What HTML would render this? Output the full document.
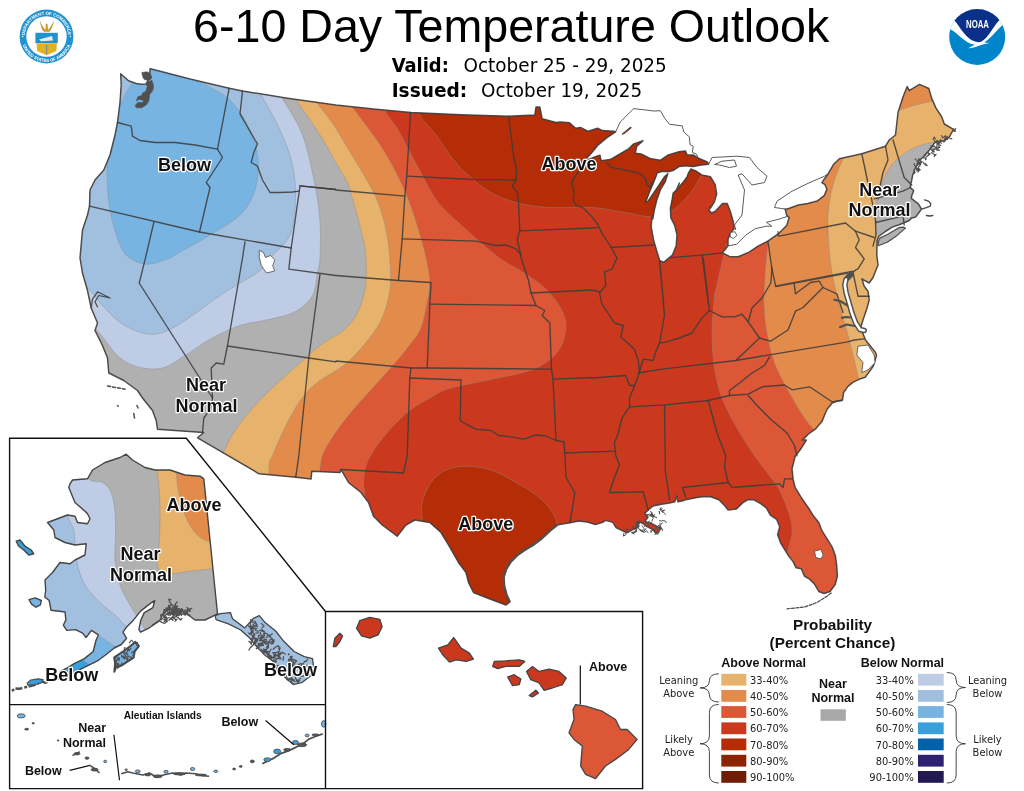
<!DOCTYPE html><html><head><meta charset="utf-8"><title>6-10 Day Temperature Outlook</title><style>html,body{margin:0;padding:0;background:#fff}body{width:1024px;height:791px;position:relative;overflow:hidden}</style></head><body>
<svg width="1024" height="791" viewBox="0 0 1024 791" style="position:absolute;left:0;top:0">
<defs><clipPath id="us"><path d="M150.5,68.8 L190.0,79.0 L229.2,88.2 L242.5,91.0 L287.5,98.2 L335.8,105.0 L373.5,109.0 L411.0,112.5 L461.0,114.8 L508.5,116.2 L534.8,115.0 L536.0,107.0 L539.8,107.0 L542.2,118.8 L556.0,122.5 L560.0,121.9 L569.4,122.7 L575.7,128.2 L580.4,127.4 L588.2,131.3 L597.6,128.2 L602.3,130.6 L613.3,131.3 L615.6,131.8 L607.0,137.6 L597.6,145.5 L591.3,153.3 L583.5,161.4 L596.1,156.4 L600.0,155.2 L601.1,160.8 L610.2,159.6 L619.6,154.1 L629.0,148.6 L633.7,143.9 L643.1,140.8 L636.8,146.2 L635.2,153.3 L641.5,154.1 L650.9,158.8 L660.3,160.3 L668.2,154.9 L679.1,151.7 L685.4,150.9 L687.0,154.9 L693.2,154.9 L697.9,158.0 L707.3,161.9 L708.6,164.3 L701.1,165.0 L693.2,166.6 L685.4,165.8 L679.1,166.6 L672.9,170.5 L668.2,171.8 L662.7,171.3 L657.2,172.9 L654.0,181.5 L649.3,192.5 L645.6,202.2 L648.1,201.1 L654.0,192.5 L660.3,183.1 L664.2,177.1 L667.8,173.7 L665.3,181.5 L660.6,189.3 L656.7,200.3 L654.4,209.7 L652.8,219.1 L651.9,216.1 L651.2,227.0 L653.5,239.6 L656.6,250.5 L659.8,260.7 L663.7,262.3 L672.3,255.2 L676.2,245.8 L677.0,234.9 L674.7,225.5 L670.8,217.6 L670.4,208.2 L672.3,198.8 L673.1,193.3 L677.0,189.4 L679.4,183.1 L676.0,190.9 L679.9,185.9 L683.8,181.5 L687.0,176.8 L688.8,172.4 L690.9,169.0 L696.4,171.3 L701.8,174.9 L710.5,176.8 L715.2,184.6 L716.7,194.0 L714.4,201.9 L710.5,208.2 L709.9,206.6 L709.2,210.6 L711.5,212.9 L715.4,211.3 L722.5,203.5 L727.2,203.5 L730.3,211.3 L733.4,222.3 L734.2,228.6 L730.3,233.3 L728.0,239.6 L728.0,245.8 L722.5,252.9 L730.3,256.8 L738.2,256.8 L749.1,252.1 L758.5,245.8 L767.9,241.1 L778.9,233.3 L786.7,225.5 L789.1,217.6 L786.7,215.3 L785.2,209.0 L787.4,209.0 L798.4,205.0 L807.8,203.5 L817.2,201.1 L824.2,195.6 L826.9,189.4 L825.0,184.7 L821.9,182.6 L824.2,179.2 L828.2,173.7 L833.6,164.3 L839.4,158.8 L861.8,153.8 L885.5,146.2 L889.2,140.0 L895.5,135.0 L898.0,112.5 L903.1,96.8 L907.2,86.5 L909.2,90.6 L919.5,84.4 L928.8,88.5 L931.9,98.9 L936.0,108.1 L941.8,117.0 L944.3,124.0 L953.5,129.4 L949.4,137.0 L943.2,141.1 L935.0,142.1 L930.9,148.3 L924.7,155.5 L919.1,160.7 L915.0,168.9 L912.7,175.1 L911.3,182.3 L910.8,182.7 L910.3,187.6 L913.7,190.5 L911.8,195.4 L911.3,198.3 L918.6,204.2 L921.5,209.1 L918.6,213.0 L915.7,216.9 L911.8,217.9 L908.8,220.8 L899.1,224.7 L892.2,227.1 L885.4,231.5 L878.6,236.4 L877.1,240.3 L876.8,255.0 L878.0,265.0 L873.0,277.5 L869.2,283.0 L861.8,278.8 L864.2,286.2 L868.0,291.2 L869.2,300.0 L866.8,308.8 L863.0,320.0 L861.0,326.2 L862.5,332.5 L865.5,340.0 L875.5,352.5 L876.5,355.6 L873.4,366.0 L865.2,377.3 L859.0,379.3 L852.8,382.4 L847.7,386.6 L843.5,392.7 L842.5,400.0 L837.4,401.0 L832.2,403.0 L827.1,409.2 L824.0,416.4 L821.9,421.6 L815.7,428.8 L808.5,434.0 L802.3,440.1 L806.4,440.0 L801.3,448.2 L795.1,456.5 L792.0,468.9 L793.1,479.2 L795.1,487.4 L801.3,497.7 L808.5,508.0 L813.7,516.3 L818.8,522.4 L821.9,530.7 L827.1,538.9 L832.2,547.2 L835.3,555.4 L836.7,565.7 L837.4,576.0 L835.3,584.3 L830.1,591.5 L824.0,593.5 L818.8,591.5 L814.7,584.3 L809.5,579.1 L804.4,576.0 L801.3,568.8 L796.1,567.8 L793.1,561.6 L788.9,556.4 L785.8,551.3 L780.7,543.1 L777.6,534.8 L779.7,526.6 L776.6,519.3 L770.4,515.2 L766.3,508.0 L761.1,503.9 L753.9,499.8 L747.7,499.8 L742.6,502.9 L736.4,509.0 L728.1,510.1 L724.0,504.9 L718.9,499.8 L710.6,496.7 L702.4,496.7 L697.0,497.5 L684.5,500.0 L683.0,500.8 L677.9,501.8 L676.8,496.1 L674.8,501.8 L669.6,502.9 L661.4,504.3 L653.1,506.0 L648.0,510.1 L644.9,513.2 L648.0,517.3 L644.9,521.4 L651.1,523.5 L655.2,525.5 L661.0,528.6 L656.2,533.8 L653.1,529.7 L646.9,526.6 L642.8,523.5 L638.7,521.4 L637.7,527.6 L632.5,529.7 L627.4,532.7 L622.2,530.7 L616.0,527.6 L612.9,522.4 L605.7,520.4 L602.6,522.4 L595.4,524.5 L587.2,522.0 L578.9,521.0 L568.6,522.9 L562.4,524.1 L557.3,524.9 L550.1,530.7 L541.8,538.5 L533.6,544.7 L524.3,550.3 L517.1,555.4 L510.9,561.6 L506.4,568.8 L503.7,577.1 L504.3,586.3 L506.8,595.6 L509.9,601.8 L506.0,605.0 L486.0,597.5 L473.5,592.5 L468.5,582.5 L466.0,572.5 L458.5,562.5 L448.5,545.0 L441.0,532.5 L429.8,522.5 L414.8,520.0 L406.0,525.0 L397.2,536.2 L382.2,525.0 L373.5,516.2 L368.5,502.5 L361.0,492.5 L348.5,482.5 L341.0,469.5 L340.0,472.4 L311.8,471.2 L311.0,479.1 L296.0,477.3 L259.1,473.8 L197.6,437.8 L203.7,432.5 L157.5,429.2 L156.2,420.5 L152.5,410.5 L142.5,398.0 L137.5,390.5 L123.8,380.5 L108.8,373.0 L107.5,358.0 L102.5,345.5 L95.0,330.5 L97.5,323.0 L91.2,308.0 L87.5,290.5 L82.5,273.0 L80.0,258.0 L82.5,230.0 L87.5,215.0 L89.5,206.2 L90.0,190.0 L95.0,180.0 L103.8,170.0 L110.0,155.0 L115.0,135.0 L117.5,122.5 L120.0,102.5 L121.2,85.0 L120.7,73.7 L128.5,80.8 L136.3,83.5 L141.4,84.3 L146.0,84.0 L149.5,78.0 L150.1,68.6Z"/></clipPath><clipPath id="akc"><path d="M70.0,483.8 L72.5,480.0 L87.5,478.8 L92.5,470.0 L105.0,462.5 L120.0,457.5 L126.2,454.2 L132.5,460.0 L145.0,467.5 L155.0,470.0 L170.0,470.0 L185.0,475.0 L200.0,476.2 L203.8,478.8 L217.5,613.8 L205.0,620.0 L195.0,620.0 L185.0,612.5 L175.0,607.5 L170.0,613.8 L165.0,610.0 L160.0,620.0 L152.5,625.0 L158.2,621.6 L149.4,627.8 L140.6,632.2 L138.9,629.6 L140.6,620.8 L144.1,612.9 L152.9,607.6 L154.7,600.5 L149.4,604.1 L140.6,611.1 L133.6,619.9 L126.6,626.9 L123.0,632.2 L126.6,638.3 L121.3,644.5 L114.3,648.0 L105.5,655.0 L98.4,660.3 L87.9,665.6 L75.6,671.7 L70.3,677.0 L65.0,679.1 L60.6,676.5 L59.8,671.7 L66.8,668.2 L73.8,663.8 L84.4,658.6 L93.2,651.5 L95.8,641.0 L98.4,634.8 L91.4,630.4 L86.1,637.5 L82.6,633.1 L75.6,629.6 L66.8,630.4 L63.3,625.2 L65.9,619.9 L65.0,612.0 L51.0,610.2 L49.2,600.5 L44.8,597.0 L45.7,590.0 L45.0,580.0 L52.5,572.5 L60.0,562.5 L70.0,563.8 L75.0,560.0 L85.0,555.0 L86.2,543.8 L75.0,545.0 L65.0,542.5 L55.0,537.5 L53.8,530.0 L47.5,522.5 L67.5,515.0 L75.0,516.2 L77.5,522.5 L87.5,523.8 L90.0,518.8 L87.5,513.8 L85.0,511.2 L75.0,502.5 L68.8,487.5Z"/></clipPath></defs>
<g clip-path="url(#us)">
<rect x="60" y="50" width="920" height="580" fill="#CA391D"/>
<path d="M378.0,95.0 C379.2,97.7 381.7,105.5 385.0,111.2 C388.3,116.9 393.4,122.3 397.6,129.2 C401.8,136.1 406.2,145.4 410.1,152.7 C414.0,160.0 417.4,166.2 421.1,173.1 C424.8,180.0 429.0,188.3 432.5,194.0 C436.0,199.7 437.3,201.9 442.0,207.0 C446.7,212.1 454.1,218.5 460.6,224.5 C467.1,230.5 474.3,237.2 481.2,243.1 C488.1,248.9 494.9,254.8 501.8,259.6 C508.7,264.4 515.5,267.5 522.4,272.0 C529.3,276.5 537.1,281.2 543.0,286.4 C548.9,291.5 553.7,297.1 557.5,302.9 C561.3,308.7 564.7,315.2 565.7,321.4 C566.7,327.6 565.4,334.5 563.7,340.0 C562.0,345.5 559.5,349.9 555.4,354.4 C551.3,358.9 544.6,363.7 538.9,366.8 C533.2,369.9 529.8,370.7 521.0,373.0 C512.2,375.3 498.1,377.9 486.0,380.5 C473.9,383.1 457.6,386.0 448.5,388.8 C439.4,391.6 437.1,394.1 431.1,397.4 C425.1,400.7 418.1,404.2 412.3,408.4 C406.6,412.6 401.6,417.5 396.6,422.5 C391.6,427.5 386.7,432.9 382.5,438.2 C378.3,443.4 374.3,449.1 371.5,454.0 C368.7,458.9 366.8,462.8 365.5,467.5 C364.2,472.2 363.6,478.3 363.5,482.5 C363.4,486.7 364.4,486.2 364.8,492.5 C365.2,498.8 365.8,515.4 366.0,520.0 L366.0,900.0 L-60.0,900.0 L-60.0,-60.0 L378.0,-60.0Z" fill="#DB5735"/>
<path d="M378.0,95.0 C379.2,97.7 381.7,105.5 385.0,111.2 C388.3,116.9 393.4,122.3 397.6,129.2 C401.8,136.1 406.2,145.4 410.1,152.7 C414.0,160.0 417.4,166.2 421.1,173.1 C424.8,180.0 429.0,188.3 432.5,194.0 C436.0,199.7 437.3,201.9 442.0,207.0 C446.7,212.1 454.1,218.5 460.6,224.5 C467.1,230.5 474.3,237.2 481.2,243.1 C488.1,248.9 494.9,254.8 501.8,259.6 C508.7,264.4 515.5,267.5 522.4,272.0 C529.3,276.5 537.1,281.2 543.0,286.4 C548.9,291.5 553.7,297.1 557.5,302.9 C561.3,308.7 564.7,315.2 565.7,321.4 C566.7,327.6 565.4,334.5 563.7,340.0 C562.0,345.5 559.5,349.9 555.4,354.4 C551.3,358.9 544.6,363.7 538.9,366.8 C533.2,369.9 529.8,370.7 521.0,373.0 C512.2,375.3 498.1,377.9 486.0,380.5 C473.9,383.1 457.6,386.0 448.5,388.8 C439.4,391.6 437.1,394.1 431.1,397.4 C425.1,400.7 418.1,404.2 412.3,408.4 C406.6,412.6 401.6,417.5 396.6,422.5 C391.6,427.5 386.7,432.9 382.5,438.2 C378.3,443.4 374.3,449.1 371.5,454.0 C368.7,458.9 366.8,462.8 365.5,467.5 C364.2,472.2 363.6,478.3 363.5,482.5 C363.4,486.7 364.4,486.2 364.8,492.5 C365.2,498.8 365.8,515.4 366.0,520.0" fill="none" stroke="#8c8c8c" stroke-opacity=".55" stroke-width=".8"/>

<path d="M336.0,85.0 C338.7,88.7 345.1,97.4 352.2,107.0 C359.3,116.6 371.2,131.6 378.5,142.5 C385.8,153.4 391.0,162.9 396.0,172.5 C401.0,182.1 404.8,190.4 408.5,200.0 C412.2,209.6 415.6,220.4 418.5,230.0 C421.4,239.6 424.1,249.0 426.0,257.8 C427.9,266.6 429.8,274.6 429.8,283.0 C429.8,291.4 427.6,300.2 426.0,308.0 C424.4,315.8 422.9,323.7 420.1,330.0 C417.3,336.3 413.0,340.5 409.1,345.7 C405.2,350.9 401.0,356.1 396.6,361.3 C392.2,366.5 387.2,371.8 382.5,377.0 C377.8,382.2 373.1,387.5 368.4,392.7 C363.7,397.9 358.8,403.2 354.3,408.4 C349.9,413.6 345.6,418.8 341.7,424.0 C337.8,429.2 333.9,434.7 330.8,439.7 C327.7,444.7 324.8,448.9 322.9,454.0 C321.0,459.1 320.4,465.2 319.7,470.3 C319.0,475.4 319.0,482.0 318.9,484.4 L318.9,900.0 L-60.0,900.0 L-60.0,-60.0 L336.0,-60.0Z" fill="#E38B4B"/>
<path d="M336.0,85.0 C338.7,88.7 345.1,97.4 352.2,107.0 C359.3,116.6 371.2,131.6 378.5,142.5 C385.8,153.4 391.0,162.9 396.0,172.5 C401.0,182.1 404.8,190.4 408.5,200.0 C412.2,209.6 415.6,220.4 418.5,230.0 C421.4,239.6 424.1,249.0 426.0,257.8 C427.9,266.6 429.8,274.6 429.8,283.0 C429.8,291.4 427.6,300.2 426.0,308.0 C424.4,315.8 422.9,323.7 420.1,330.0 C417.3,336.3 413.0,340.5 409.1,345.7 C405.2,350.9 401.0,356.1 396.6,361.3 C392.2,366.5 387.2,371.8 382.5,377.0 C377.8,382.2 373.1,387.5 368.4,392.7 C363.7,397.9 358.8,403.2 354.3,408.4 C349.9,413.6 345.6,418.8 341.7,424.0 C337.8,429.2 333.9,434.7 330.8,439.7 C327.7,444.7 324.8,448.9 322.9,454.0 C321.0,459.1 320.4,465.2 319.7,470.3 C319.0,475.4 319.0,482.0 318.9,484.4" fill="none" stroke="#8c8c8c" stroke-opacity=".55" stroke-width=".8"/>

<path d="M310.0,92.0 C311.3,94.0 313.7,98.4 317.6,103.8 C321.5,109.2 327.8,116.3 333.3,124.5 C338.8,132.7 345.3,144.1 350.5,152.7 C355.7,161.3 360.4,168.9 364.6,176.2 C368.8,183.5 372.7,190.3 375.6,196.6 C378.5,202.9 380.2,208.4 381.9,214.0 C383.6,219.6 384.7,222.7 386.0,230.0 C387.3,237.3 389.2,247.7 389.8,257.8 C390.4,267.9 391.3,280.1 389.8,290.5 C388.3,300.9 385.4,311.3 381.0,320.5 C376.6,329.7 369.8,338.0 363.5,345.5 C357.2,353.0 350.8,359.7 343.5,365.5 C336.2,371.3 326.4,375.7 320.0,380.5 C313.6,385.3 309.6,388.8 305.0,394.2 C300.4,399.6 296.7,405.7 292.5,413.0 C288.3,420.3 283.3,430.9 280.0,438.0 C276.7,445.1 274.2,451.9 272.5,455.8 C270.8,459.7 270.2,458.5 269.6,461.5 C269.0,464.5 269.1,469.4 268.8,473.8 C268.5,478.2 268.0,485.5 267.9,487.9 L267.9,900.0 L-60.0,900.0 L-60.0,-60.0 L310.0,-60.0Z" fill="#E7B26B"/>
<path d="M310.0,92.0 C311.3,94.0 313.7,98.4 317.6,103.8 C321.5,109.2 327.8,116.3 333.3,124.5 C338.8,132.7 345.3,144.1 350.5,152.7 C355.7,161.3 360.4,168.9 364.6,176.2 C368.8,183.5 372.7,190.3 375.6,196.6 C378.5,202.9 380.2,208.4 381.9,214.0 C383.6,219.6 384.7,222.7 386.0,230.0 C387.3,237.3 389.2,247.7 389.8,257.8 C390.4,267.9 391.3,280.1 389.8,290.5 C388.3,300.9 385.4,311.3 381.0,320.5 C376.6,329.7 369.8,338.0 363.5,345.5 C357.2,353.0 350.8,359.7 343.5,365.5 C336.2,371.3 326.4,375.7 320.0,380.5 C313.6,385.3 309.6,388.8 305.0,394.2 C300.4,399.6 296.7,405.7 292.5,413.0 C288.3,420.3 283.3,430.9 280.0,438.0 C276.7,445.1 274.2,451.9 272.5,455.8 C270.8,459.7 270.2,458.5 269.6,461.5 C269.0,464.5 269.1,469.4 268.8,473.8 C268.5,478.2 268.0,485.5 267.9,487.9" fill="none" stroke="#8c8c8c" stroke-opacity=".55" stroke-width=".8"/>

<path d="M282.5,82.5 C284.9,85.6 290.8,92.5 297.0,101.2 C303.2,110.0 313.5,124.8 320.0,135.0 C326.5,145.2 331.5,155.0 335.8,162.5 C340.1,170.0 343.7,175.4 346.0,180.0 C348.3,184.6 347.3,181.7 349.8,190.0 C352.3,198.3 358.3,218.7 361.0,230.0 C363.7,241.3 365.4,247.7 366.0,257.8 C366.6,267.9 366.5,280.9 364.8,290.5 C363.1,300.1 359.6,308.8 356.0,315.5 C352.4,322.2 346.9,327.2 343.5,330.5 C340.1,333.8 339.7,333.0 335.8,335.5 C331.9,338.0 326.0,340.9 320.0,345.5 C314.0,350.1 307.1,356.8 300.0,363.0 C292.9,369.2 285.0,375.9 277.5,383.0 C270.0,390.1 262.1,397.6 255.0,405.5 C247.9,413.4 240.2,422.8 235.0,430.5 C229.8,438.2 226.7,446.0 223.8,451.8 C220.9,457.6 218.6,463.2 217.5,465.5 L217.5,900.0 L-60.0,900.0 L-60.0,-60.0 L282.5,-60.0Z" fill="#B0B0B0"/>
<path d="M282.5,82.5 C284.9,85.6 290.8,92.5 297.0,101.2 C303.2,110.0 313.5,124.8 320.0,135.0 C326.5,145.2 331.5,155.0 335.8,162.5 C340.1,170.0 343.7,175.4 346.0,180.0 C348.3,184.6 347.3,181.7 349.8,190.0 C352.3,198.3 358.3,218.7 361.0,230.0 C363.7,241.3 365.4,247.7 366.0,257.8 C366.6,267.9 366.5,280.9 364.8,290.5 C363.1,300.1 359.6,308.8 356.0,315.5 C352.4,322.2 346.9,327.2 343.5,330.5 C340.1,333.8 339.7,333.0 335.8,335.5 C331.9,338.0 326.0,340.9 320.0,345.5 C314.0,350.1 307.1,356.8 300.0,363.0 C292.9,369.2 285.0,375.9 277.5,383.0 C270.0,390.1 262.1,397.6 255.0,405.5 C247.9,413.4 240.2,422.8 235.0,430.5 C229.8,438.2 226.7,446.0 223.8,451.8 C220.9,457.6 218.6,463.2 217.5,465.5" fill="none" stroke="#8c8c8c" stroke-opacity=".55" stroke-width=".8"/>

<path d="M272.5,82.5 C274.2,85.2 277.5,90.0 282.5,98.8 C287.5,107.5 297.1,120.6 302.5,135.0 C307.9,149.4 312.1,170.4 315.0,185.0 C317.9,199.6 319.2,210.3 320.0,222.5 C320.8,234.7 320.4,249.6 320.0,258.0 C319.6,266.4 318.8,266.8 317.5,273.0 C316.2,279.2 316.2,289.0 312.5,295.5 C308.8,302.0 302.1,307.9 295.0,311.8 C287.9,315.8 279.2,316.9 270.0,319.2 C260.8,321.5 250.0,322.2 240.0,325.5 C230.0,328.8 219.2,334.2 210.0,339.2 C200.8,344.2 192.9,350.7 185.0,355.5 C177.1,360.3 170.4,366.1 162.5,368.0 C154.6,369.9 145.0,368.9 137.5,366.8 C130.0,364.7 124.6,362.0 117.5,355.5 C110.4,349.0 102.9,335.9 95.0,328.0 C87.1,320.1 74.2,311.3 70.0,308.0 L-60.0,-60.0 L272.5,-60.0Z" fill="#BFCCE6"/>
<path d="M272.5,82.5 C274.2,85.2 277.5,90.0 282.5,98.8 C287.5,107.5 297.1,120.6 302.5,135.0 C307.9,149.4 312.1,170.4 315.0,185.0 C317.9,199.6 319.2,210.3 320.0,222.5 C320.8,234.7 320.4,249.6 320.0,258.0 C319.6,266.4 318.8,266.8 317.5,273.0 C316.2,279.2 316.2,289.0 312.5,295.5 C308.8,302.0 302.1,307.9 295.0,311.8 C287.9,315.8 279.2,316.9 270.0,319.2 C260.8,321.5 250.0,322.2 240.0,325.5 C230.0,328.8 219.2,334.2 210.0,339.2 C200.8,344.2 192.9,350.7 185.0,355.5 C177.1,360.3 170.4,366.1 162.5,368.0 C154.6,369.9 145.0,368.9 137.5,366.8 C130.0,364.7 124.6,362.0 117.5,355.5 C110.4,349.0 102.9,335.9 95.0,328.0 C87.1,320.1 74.2,311.3 70.0,308.0" fill="none" stroke="#8c8c8c" stroke-opacity=".55" stroke-width=".8"/>

<path d="M252.5,82.5 C253.9,84.6 256.6,87.1 261.2,95.0 C265.8,102.9 274.8,118.3 280.0,130.0 C285.2,141.7 289.9,153.3 292.5,165.0 C295.1,176.7 295.9,188.3 295.5,200.0 C295.1,211.7 294.2,225.3 290.0,235.0 C285.8,244.7 275.0,252.1 270.0,258.0 C265.0,263.9 265.0,266.3 260.0,270.5 C255.0,274.7 246.7,278.8 240.0,283.0 C233.3,287.2 227.1,290.7 220.0,295.5 C212.9,300.3 205.0,306.6 197.5,311.8 C190.0,317.0 182.1,323.1 175.0,326.8 C167.9,330.5 161.7,333.6 155.0,334.2 C148.3,334.8 141.2,332.8 135.0,330.5 C128.8,328.2 122.9,324.7 117.5,320.5 C112.1,316.3 107.1,310.5 102.5,305.5 C97.9,300.5 95.4,295.9 90.0,290.5 C84.6,285.1 73.3,275.9 70.0,273.0 L-60.0,-60.0 L252.5,-60.0Z" fill="#A1C0DF"/>
<path d="M252.5,82.5 C253.9,84.6 256.6,87.1 261.2,95.0 C265.8,102.9 274.8,118.3 280.0,130.0 C285.2,141.7 289.9,153.3 292.5,165.0 C295.1,176.7 295.9,188.3 295.5,200.0 C295.1,211.7 294.2,225.3 290.0,235.0 C285.8,244.7 275.0,252.1 270.0,258.0 C265.0,263.9 265.0,266.3 260.0,270.5 C255.0,274.7 246.7,278.8 240.0,283.0 C233.3,287.2 227.1,290.7 220.0,295.5 C212.9,300.3 205.0,306.6 197.5,311.8 C190.0,317.0 182.1,323.1 175.0,326.8 C167.9,330.5 161.7,333.6 155.0,334.2 C148.3,334.8 141.2,332.8 135.0,330.5 C128.8,328.2 122.9,324.7 117.5,320.5 C112.1,316.3 107.1,310.5 102.5,305.5 C97.9,300.5 95.4,295.9 90.0,290.5 C84.6,285.1 73.3,275.9 70.0,273.0" fill="none" stroke="#8c8c8c" stroke-opacity=".55" stroke-width=".8"/>

<path d="M138.0,75.0 C137.0,76.4 134.8,79.1 132.0,83.5 C129.2,87.9 124.7,94.6 121.5,101.5 C118.3,108.4 115.1,116.9 113.0,125.0 C110.9,133.1 110.0,142.1 109.0,150.0 C108.0,157.9 106.8,162.5 107.0,172.5 C107.2,182.5 107.8,197.9 110.0,210.0 C112.2,222.1 116.7,237.0 120.0,245.0 C123.3,253.0 125.4,254.8 130.0,258.0 C134.6,261.2 140.8,264.2 147.5,264.2 C154.2,264.2 165.4,259.5 170.0,258.0 C174.6,256.5 168.3,258.8 175.0,255.0 C181.7,251.2 199.2,241.7 210.0,235.0 C220.8,228.3 232.5,222.5 240.0,215.0 C247.5,207.5 252.0,199.2 255.0,190.0 C258.0,180.8 258.8,170.0 258.0,160.0 C257.2,150.0 254.7,140.0 250.0,130.0 C245.3,120.0 238.3,108.1 230.0,100.0 C221.7,91.9 207.5,87.0 200.0,81.2 C192.5,75.4 192.5,70.2 185.0,65.0 C177.5,59.8 162.1,50.0 155.0,50.0 C147.9,50.0 145.3,60.8 142.5,65.0 C139.7,69.2 138.8,73.3 138.0,75.0Z" fill="#78B4E2"/>
<path d="M138.0,75.0 C137.0,76.4 134.8,79.1 132.0,83.5 C129.2,87.9 124.7,94.6 121.5,101.5 C118.3,108.4 115.1,116.9 113.0,125.0 C110.9,133.1 110.0,142.1 109.0,150.0 C108.0,157.9 106.8,162.5 107.0,172.5 C107.2,182.5 107.8,197.9 110.0,210.0 C112.2,222.1 116.7,237.0 120.0,245.0 C123.3,253.0 125.4,254.8 130.0,258.0 C134.6,261.2 140.8,264.2 147.5,264.2 C154.2,264.2 165.4,259.5 170.0,258.0 C174.6,256.5 168.3,258.8 175.0,255.0 C181.7,251.2 199.2,241.7 210.0,235.0 C220.8,228.3 232.5,222.5 240.0,215.0 C247.5,207.5 252.0,199.2 255.0,190.0 C258.0,180.8 258.8,170.0 258.0,160.0 C257.2,150.0 254.7,140.0 250.0,130.0 C245.3,120.0 238.3,108.1 230.0,100.0 C221.7,91.9 207.5,87.0 200.0,81.2 C192.5,75.4 192.5,70.2 185.0,65.0 C177.5,59.8 162.1,50.0 155.0,50.0 C147.9,50.0 145.3,60.8 142.5,65.0 C139.7,69.2 138.8,73.3 138.0,75.0" fill="none" stroke="#8c8c8c" stroke-opacity=".55" stroke-width=".8"/>

<path d="M746.0,189.4 C744.4,194.9 739.5,213.9 736.6,222.3 C733.7,230.7 730.8,234.2 728.7,239.6 C726.6,245.0 725.6,248.8 724.0,254.5 C722.4,260.2 720.9,267.1 719.3,274.0 C717.7,280.9 715.4,292.4 714.6,296.0 C713.8,299.6 714.9,289.3 714.5,295.5 C714.1,301.7 712.0,320.9 712.0,333.0 C712.0,345.1 712.8,357.2 714.5,368.0 C716.2,378.8 718.2,388.0 722.0,398.0 C725.8,408.0 731.6,418.4 737.0,428.0 C742.4,437.6 749.5,448.4 754.5,455.8 C759.5,463.2 762.8,466.8 767.0,472.5 C771.2,478.2 775.8,482.9 779.5,490.0 C783.2,497.1 787.4,507.9 789.5,515.0 C791.6,522.1 792.2,526.7 792.0,532.5 C791.8,538.3 789.5,542.1 788.2,550.0 C787.0,557.9 785.1,575.0 784.5,580.0 L784.5,900.0 L1100.0,900.0 L1100.0,-60.0 L746.0,-60.0Z" fill="#DB5735"/>
<path d="M746.0,189.4 C744.4,194.9 739.5,213.9 736.6,222.3 C733.7,230.7 730.8,234.2 728.7,239.6 C726.6,245.0 725.6,248.8 724.0,254.5 C722.4,260.2 720.9,267.1 719.3,274.0 C717.7,280.9 715.4,292.4 714.6,296.0 C713.8,299.6 714.9,289.3 714.5,295.5 C714.1,301.7 712.0,320.9 712.0,333.0 C712.0,345.1 712.8,357.2 714.5,368.0 C716.2,378.8 718.2,388.0 722.0,398.0 C725.8,408.0 731.6,418.4 737.0,428.0 C742.4,437.6 749.5,448.4 754.5,455.8 C759.5,463.2 762.8,466.8 767.0,472.5 C771.2,478.2 775.8,482.9 779.5,490.0 C783.2,497.1 787.4,507.9 789.5,515.0 C791.6,522.1 792.2,526.7 792.0,532.5 C791.8,538.3 789.5,542.1 788.2,550.0 C787.0,557.9 785.1,575.0 784.5,580.0" fill="none" stroke="#8c8c8c" stroke-opacity=".55" stroke-width=".8"/>

<path d="M775.8,189.4 C775.0,194.4 772.3,210.7 771.1,219.2 C769.9,227.7 769.5,233.8 768.7,240.3 C767.9,246.8 767.0,251.7 766.4,258.4 C765.8,265.1 765.2,272.7 764.8,280.3 C764.4,287.9 763.6,295.2 764.0,304.0 C764.4,312.8 765.2,323.2 767.0,333.0 C768.8,342.8 770.8,353.0 774.5,363.0 C778.2,373.0 784.5,383.8 789.5,393.0 C794.5,402.2 799.9,411.3 804.5,418.0 C809.1,424.7 811.6,426.8 817.0,433.0 C822.4,439.2 833.7,451.8 837.0,455.5 L837.0,900.0 L1100.0,900.0 L1100.0,-60.0 L775.8,-60.0Z" fill="#E38B4B"/>
<path d="M775.8,189.4 C775.0,194.4 772.3,210.7 771.1,219.2 C769.9,227.7 769.5,233.8 768.7,240.3 C767.9,246.8 767.0,251.7 766.4,258.4 C765.8,265.1 765.2,272.7 764.8,280.3 C764.4,287.9 763.6,295.2 764.0,304.0 C764.4,312.8 765.2,323.2 767.0,333.0 C768.8,342.8 770.8,353.0 774.5,363.0 C778.2,373.0 784.5,383.8 789.5,393.0 C794.5,402.2 799.9,411.3 804.5,418.0 C809.1,424.7 811.6,426.8 817.0,433.0 C822.4,439.2 833.7,451.8 837.0,455.5" fill="none" stroke="#8c8c8c" stroke-opacity=".55" stroke-width=".8"/>

<path d="M863.0,400.0 C861.8,394.2 857.0,371.7 855.5,365.0 C854.0,358.3 855.5,365.0 854.2,360.0 C853.0,355.0 850.7,345.0 848.0,335.0 C845.3,325.0 840.9,312.1 838.0,300.0 C835.1,287.9 832.2,275.0 830.5,262.5 C828.8,250.0 828.0,229.6 827.5,225.0 C827.0,220.4 827.3,237.5 827.5,235.0 C827.7,232.5 827.6,218.3 828.5,210.0 C829.4,201.7 830.6,193.5 833.0,185.0 C835.4,176.5 839.7,166.3 843.0,158.8 C846.3,151.3 848.0,146.1 853.0,140.0 C858.0,133.9 865.2,127.5 873.0,122.5 C880.8,117.5 890.0,113.5 899.8,110.0 C909.6,106.5 920.4,103.7 931.8,101.2 C943.2,98.7 962.0,96.0 968.0,95.0 L1100.0,95.0 L1100.0,400.0Z" fill="#E7B26B"/>
<path d="M863.0,400.0 C861.8,394.2 857.0,371.7 855.5,365.0 C854.0,358.3 855.5,365.0 854.2,360.0 C853.0,355.0 850.7,345.0 848.0,335.0 C845.3,325.0 840.9,312.1 838.0,300.0 C835.1,287.9 832.2,275.0 830.5,262.5 C828.8,250.0 828.0,229.6 827.5,225.0 C827.0,220.4 827.3,237.5 827.5,235.0 C827.7,232.5 827.6,218.3 828.5,210.0 C829.4,201.7 830.6,193.5 833.0,185.0 C835.4,176.5 839.7,166.3 843.0,158.8 C846.3,151.3 848.0,146.1 853.0,140.0 C858.0,133.9 865.2,127.5 873.0,122.5 C880.8,117.5 890.0,113.5 899.8,110.0 C909.6,106.5 920.4,103.7 931.8,101.2 C943.2,98.7 962.0,96.0 968.0,95.0" fill="none" stroke="#8c8c8c" stroke-opacity=".55" stroke-width=".8"/>

<path d="M948.4,143.4 C946.0,143.3 937.4,142.8 934.0,142.8 C930.6,142.8 930.9,142.7 927.8,143.4 C924.7,144.2 919.5,145.5 915.4,147.3 C911.3,149.2 906.9,151.8 903.1,154.5 C899.3,157.2 895.6,160.4 892.7,163.8 C889.8,167.2 887.5,171.2 885.5,175.1 C883.5,179.0 881.9,183.0 880.4,187.5 C878.9,192.0 877.2,196.8 876.3,201.9 C875.4,207.1 875.3,212.9 875.2,218.4 C875.1,223.9 875.7,232.2 875.8,234.9 L1100.0,234.9 L1100.0,143.4Z" fill="#B0B0B0"/>
<path d="M948.4,143.4 C946.0,143.3 937.4,142.8 934.0,142.8 C930.6,142.8 930.9,142.7 927.8,143.4 C924.7,144.2 919.5,145.5 915.4,147.3 C911.3,149.2 906.9,151.8 903.1,154.5 C899.3,157.2 895.6,160.4 892.7,163.8 C889.8,167.2 887.5,171.2 885.5,175.1 C883.5,179.0 881.9,183.0 880.4,187.5 C878.9,192.0 877.2,196.8 876.3,201.9 C875.4,207.1 875.3,212.9 875.2,218.4 C875.1,223.9 875.7,232.2 875.8,234.9" fill="none" stroke="#8c8c8c" stroke-opacity=".55" stroke-width=".8"/>

<path d="M411.0,85.0 C412.2,89.7 414.3,104.7 418.5,113.0 C422.7,121.3 430.2,127.2 436.0,135.0 C441.8,142.8 447.7,152.9 453.5,160.0 C459.3,167.1 464.8,172.1 471.0,177.5 C477.2,182.9 483.5,188.3 491.0,192.5 C498.5,196.7 506.4,200.0 516.0,202.5 C525.6,205.0 536.0,206.7 548.5,207.5 C561.0,208.3 578.9,206.6 591.3,207.4 C603.7,208.2 612.6,210.5 622.7,212.1 C632.8,213.7 643.7,216.9 651.7,216.8 C659.7,216.7 665.4,213.8 670.5,211.3 C675.6,208.8 678.5,205.6 682.3,201.9 C686.1,198.2 690.2,193.5 693.2,189.3 C696.2,185.1 697.4,181.8 700.3,176.8 C703.2,171.9 707.8,167.2 710.5,159.6 C713.2,152.0 715.7,136.0 716.7,131.3 L716.7,-60.0 L411.0,-60.0Z" fill="#B42D06"/>
<path d="M411.0,85.0 C412.2,89.7 414.3,104.7 418.5,113.0 C422.7,121.3 430.2,127.2 436.0,135.0 C441.8,142.8 447.7,152.9 453.5,160.0 C459.3,167.1 464.8,172.1 471.0,177.5 C477.2,182.9 483.5,188.3 491.0,192.5 C498.5,196.7 506.4,200.0 516.0,202.5 C525.6,205.0 536.0,206.7 548.5,207.5 C561.0,208.3 578.9,206.6 591.3,207.4 C603.7,208.2 612.6,210.5 622.7,212.1 C632.8,213.7 643.7,216.9 651.7,216.8 C659.7,216.7 665.4,213.8 670.5,211.3 C675.6,208.8 678.5,205.6 682.3,201.9 C686.1,198.2 690.2,193.5 693.2,189.3 C696.2,185.1 697.4,181.8 700.3,176.8 C703.2,171.9 707.8,167.2 710.5,159.6 C713.2,152.0 715.7,136.0 716.7,131.3" fill="none" stroke="#8c8c8c" stroke-opacity=".55" stroke-width=".8"/>

<path d="M422.2,535.0 C422.2,532.5 422.2,525.4 422.2,520.0 C422.2,514.6 420.7,508.8 422.2,502.5 C423.7,496.2 427.0,487.9 431.0,482.5 C435.0,477.1 440.2,472.7 446.0,470.0 C451.8,467.3 458.5,466.2 466.0,466.2 C473.5,466.2 482.7,467.3 491.0,470.0 C499.3,472.7 508.5,478.3 516.0,482.5 C523.5,486.7 530.2,490.4 536.0,495.0 C541.8,499.6 547.5,505.0 551.0,510.0 C554.5,515.0 555.5,518.3 557.2,525.0 C558.9,531.7 560.4,545.8 561.0,550.0 L561.0,800.0 L422.2,800.0Z" fill="#B42D06"/>
<path d="M422.2,535.0 C422.2,532.5 422.2,525.4 422.2,520.0 C422.2,514.6 420.7,508.8 422.2,502.5 C423.7,496.2 427.0,487.9 431.0,482.5 C435.0,477.1 440.2,472.7 446.0,470.0 C451.8,467.3 458.5,466.2 466.0,466.2 C473.5,466.2 482.7,467.3 491.0,470.0 C499.3,472.7 508.5,478.3 516.0,482.5 C523.5,486.7 530.2,490.4 536.0,495.0 C541.8,499.6 547.5,505.0 551.0,510.0 C554.5,515.0 555.5,518.3 557.2,525.0 C558.9,531.7 560.4,545.8 561.0,550.0" fill="none" stroke="#8c8c8c" stroke-opacity=".55" stroke-width=".8"/>

</g>
<g fill="none" stroke="#3c3c3c" stroke-opacity=".88" stroke-width="1.35" stroke-linejoin="round" stroke-linecap="round">
<path d="M117.5,122.5 L131.2,126.2 L132.5,136.2 L140.0,140.5 L155.0,142.5 L175.0,142.5 L195.0,145.0 L217.5,149.2"/>
<path d="M229.2,88.2 L217.5,149.2 L222.5,157.5 L211.2,175.0 L206.2,182.5 L210.0,187.5 L199.5,232.0"/>
<path d="M242.5,91.0 L240.0,113.8 L255.0,140.0 L257.5,143.8 L253.8,152.5 L251.2,162.5 L257.5,166.2 L262.5,180.0 L270.0,192.5 L280.0,192.5 L292.5,192.0 L299.2,191.2"/>
<path d="M89.5,206.2 L199.5,232.0 L291.2,248.0"/>
<path d="M153.8,222.5 L145.5,257.8 L139.2,283.0 L212.5,398.0 L211.2,408.0 L203.8,418.0 L202.5,433.0"/>
<path d="M245.0,241.8 L242.5,258.0 L227.5,345.5 L223.8,364.2 L216.2,363.0 L211.2,368.0 L212.5,398.0"/>
<path d="M335.8,189.5 L300.0,185.8 L291.2,248.0 L288.8,269.2 L335.8,275.5 L336.0,275.5 L398.5,280.5 L431.0,282.5 L429.8,304.2 L427.2,368.0"/>
<path d="M300.0,185.8 L335.8,189.5 L336.0,190.0 L404.8,196.2"/>
<path d="M410.5,112.5 L406.8,176.2 L404.8,196.2 L402.2,238.8 L400.5,257.8 L398.5,280.5"/>
<path d="M406.8,176.2 L473.5,179.5 L516.0,180.0"/>
<path d="M508.5,116.2 L511.0,135.0 L513.5,155.0 L516.5,170.0 L516.0,180.0 L512.2,186.2 L517.2,192.5 L518.5,202.5 L519.8,230.0 L517.2,240.0 L519.8,250.0 L521.0,257.8 L528.5,280.5 L531.0,293.0 L536.0,305.5 L544.8,310.5 L542.2,315.5 L549.8,323.0 L551.5,369.2 L553.0,379.2 L556.0,440.5"/>
<path d="M564.0,441.8 L564.8,453.0 L564.8,452.5 L566.0,477.5 L574.8,492.5 L572.2,510.0 L569.8,522.5"/>
<path d="M402.2,238.8 L476.0,241.2 L496.0,245.5 L506.0,245.0 L516.0,248.8 L521.0,255.0"/>
<path d="M519.8,230.8 L591.8,228.0 L598.0,227.5"/>
<path d="M227.5,346.0 L308.8,358.0 L335.8,361.8 L336.0,361.0 L411.0,368.0 L427.2,368.0 L551.5,369.2"/>
<path d="M320.0,274.2 L308.8,358.0 L298.8,455.8 L295.7,477.3"/>
<path d="M429.8,304.2 L536.0,305.5"/>
<path d="M411.0,368.0 L409.8,378.0 L407.2,455.8 L403.5,473.0 L341.0,469.5"/>
<path d="M409.8,378.0 L461.0,380.0 L460.2,420.5 L466.0,424.2 L476.0,429.2 L491.0,430.5 L498.5,435.5 L511.0,436.8 L523.5,439.2 L536.0,435.0 L546.0,436.0 L556.0,440.5 L564.0,441.8"/>
<path d="M531.0,293.0 L591.8,290.0 L600.0,292.0"/>
<path d="M553.0,379.2 L591.8,377.5 L592.0,378.0 L625.8,375.5 L629.5,385.5 L634.5,385.5"/>
<path d="M564.8,453.0 L591.8,451.8 L592.0,452.0 L615.8,451.2"/>
<path d="M585.9,160.3 L580.4,169.0 L572.5,179.9 L571.8,184.6 L574.1,190.9 L573.3,200.3 L575.7,205.0 L583.5,208.2 L591.3,216.0 L597.6,224.0 L603.0,235.0 L611.0,247.0 L617.0,258.0 L612.0,269.2 L604.5,271.8 L605.8,285.5 L599.5,293.0 L602.0,304.2 L614.5,323.0 L623.2,325.5 L620.8,336.8 L634.5,349.2 L638.2,360.5 L639.5,371.8 L635.8,383.0 L629.5,398.0 L629.5,406.8 L622.0,418.0 L618.2,433.0 L614.5,443.0 L615.8,455.8 L619.5,465.0 L614.5,477.5 L609.5,492.5 L643.2,491.8 L648.2,510.0"/>
<path d="M607.0,162.7 L611.7,167.4 L622.7,169.7 L635.2,172.1 L641.5,174.5 L645.4,178.4 L647.0,184.6 L650.1,187.8 L652.5,181.5"/>
<path d="M611.0,247.5 L653.5,245.0"/>
<path d="M659.8,261.5 L663.7,304.0 L659.5,260.5 L664.5,315.5 L659.5,343.0"/>
<path d="M702.1,255.2 L708.4,304.0 L703.2,258.0 L709.5,310.5"/>
<path d="M670.8,257.6 L702.1,255.2 L722.5,252.9"/>
<path d="M639.5,371.8 L643.2,359.2 L653.2,360.5 L655.8,351.8 L659.5,343.0 L667.0,341.8 L679.5,338.0 L692.0,333.0 L702.0,318.0 L709.5,310.5 L722.0,316.8 L734.5,316.8 L742.0,314.2 L748.2,321.8 L752.0,308.0 L762.0,298.0 L770.8,283.0 L772.0,268.0 L771.8,267.8"/>
<path d="M767.9,241.1 L771.8,267.8 L773.4,275.6 L775.8,286.6 L847.8,273.0 L775.5,286.2 L853.0,271.2"/>
<path d="M748.2,321.8 L759.5,338.0 L735.8,360.5"/>
<path d="M759.5,338.0 L770.5,341.2 L788.0,330.0 L795.5,311.2 L803.0,307.5 L823.0,287.5 L836.8,293.8 L843.0,312.5"/>
<path d="M794.2,283.8 L795.5,293.8 L810.5,282.5 L819.2,281.2 L823.0,287.5"/>
<path d="M638.2,373.0 L662.0,369.2 L735.8,360.5 L847.8,341.8 L854.2,340.0 L864.2,338.8"/>
<path d="M769.5,356.8 L764.5,365.5 L752.0,373.0 L739.5,383.0 L729.5,390.5 L729.5,395.5"/>
<path d="M629.5,406.8 L664.5,404.8 L708.2,400.5 L729.5,395.5 L748.2,394.2 L762.0,386.8 L784.5,385.0 L792.0,389.8 L809.5,386.8 L832.0,401.8 L842.0,400.5"/>
<path d="M748.2,395.5 L757.0,405.5 L772.0,420.5 L787.0,433.0 L794.5,445.5 L797.0,455.8"/>
<path d="M664.5,405.5 L665.2,455.8 L665.2,470.0 L669.5,500.0"/>
<path d="M708.2,400.5 L717.0,433.0 L725.8,455.8 L724.5,467.5 L728.2,482.5"/>
<path d="M685.8,497.5 L682.5,487.5 L728.2,482.5 L732.0,487.5 L779.5,483.8 L783.2,487.5 L784.5,478.8 L792.0,478.8"/>
<path d="M861.8,153.8 L864.2,165.0 L866.8,177.5 L871.8,200.0 L875.5,220.0 L876.0,235.0 L873.0,246.2"/>
<path d="M885.5,146.2 L888.0,160.0 L883.0,172.5 L879.2,190.0 L878.0,198.8"/>
<path d="M893.0,140.0 L904.2,177.5 L911.8,185.0"/>
<path d="M874.2,198.8 L903.0,191.2 L910.5,187.5"/>
<path d="M875.5,222.5 L903.0,216.2 L904.2,225.0"/>
<path d="M778.1,231.7 L778.1,235.6 L779.2,236.2 L845.5,223.0 L855.5,231.2 L874.2,237.5"/>
<path d="M855.5,231.2 L859.2,240.0 L855.5,247.5 L864.2,258.8 L858.0,268.8 L855.5,270.0 L853.0,272.5 L858.0,296.2 L869.2,296.2"/>
<path d="M150.5,68.8 L190.0,79.0 L229.2,88.2 L242.5,91.0 L287.5,98.2 L335.8,105.0 L373.5,109.0 L411.0,112.5 L461.0,114.8 L508.5,116.2 L534.8,115.0 L536.0,107.0 L539.8,107.0 L542.2,118.8 L556.0,122.5 L560.0,121.9 L569.4,122.7 L575.7,128.2 L580.4,127.4 L588.2,131.3 L597.6,128.2 L602.3,130.6 L613.3,131.3 L615.6,131.8 L607.0,137.6 L597.6,145.5 L591.3,153.3 L583.5,161.4 L596.1,156.4 L600.0,155.2 L601.1,160.8 L610.2,159.6 L619.6,154.1 L629.0,148.6 L633.7,143.9 L643.1,140.8 L636.8,146.2 L635.2,153.3 L641.5,154.1 L650.9,158.8 L660.3,160.3 L668.2,154.9 L679.1,151.7 L685.4,150.9 L687.0,154.9 L693.2,154.9 L697.9,158.0 L707.3,161.9 L708.6,164.3 L701.1,165.0 L693.2,166.6 L685.4,165.8 L679.1,166.6 L672.9,170.5 L668.2,171.8 L662.7,171.3 L657.2,172.9 L654.0,181.5 L649.3,192.5 L645.6,202.2 L648.1,201.1 L654.0,192.5 L660.3,183.1 L664.2,177.1 L667.8,173.7 L665.3,181.5 L660.6,189.3 L656.7,200.3 L654.4,209.7 L652.8,219.1 L651.9,216.1 L651.2,227.0 L653.5,239.6 L656.6,250.5 L659.8,260.7 L663.7,262.3 L672.3,255.2 L676.2,245.8 L677.0,234.9 L674.7,225.5 L670.8,217.6 L670.4,208.2 L672.3,198.8 L673.1,193.3 L677.0,189.4 L679.4,183.1 L676.0,190.9 L679.9,185.9 L683.8,181.5 L687.0,176.8 L688.8,172.4 L690.9,169.0 L696.4,171.3 L701.8,174.9 L710.5,176.8 L715.2,184.6 L716.7,194.0 L714.4,201.9 L710.5,208.2 L709.9,206.6 L709.2,210.6 L711.5,212.9 L715.4,211.3 L722.5,203.5 L727.2,203.5 L730.3,211.3 L733.4,222.3 L734.2,228.6 L730.3,233.3 L728.0,239.6 L728.0,245.8 L722.5,252.9 L730.3,256.8 L738.2,256.8 L749.1,252.1 L758.5,245.8 L767.9,241.1 L778.9,233.3 L786.7,225.5 L789.1,217.6 L786.7,215.3 L785.2,209.0 L787.4,209.0 L798.4,205.0 L807.8,203.5 L817.2,201.1 L824.2,195.6 L826.9,189.4 L825.0,184.7 L821.9,182.6 L824.2,179.2 L828.2,173.7 L833.6,164.3 L839.4,158.8 L861.8,153.8 L885.5,146.2 L889.2,140.0 L895.5,135.0 L898.0,112.5 L903.1,96.8 L907.2,86.5 L909.2,90.6 L919.5,84.4 L928.8,88.5 L931.9,98.9 L936.0,108.1 L941.8,117.0 L944.3,124.0 L953.5,129.4 L949.4,137.0 L943.2,141.1 L935.0,142.1 L930.9,148.3 L924.7,155.5 L919.1,160.7 L915.0,168.9 L912.7,175.1 L911.3,182.3 L910.8,182.7 L910.3,187.6 L913.7,190.5 L911.8,195.4 L911.3,198.3 L918.6,204.2 L921.5,209.1 L918.6,213.0 L915.7,216.9 L911.8,217.9 L908.8,220.8 L899.1,224.7 L892.2,227.1 L885.4,231.5 L878.6,236.4 L877.1,240.3 L876.8,255.0 L878.0,265.0 L873.0,277.5 L869.2,283.0 L861.8,278.8 L864.2,286.2 L868.0,291.2 L869.2,300.0 L866.8,308.8 L863.0,320.0 L861.0,326.2 L862.5,332.5 L865.5,340.0 L875.5,352.5 L876.5,355.6 L873.4,366.0 L865.2,377.3 L859.0,379.3 L852.8,382.4 L847.7,386.6 L843.5,392.7 L842.5,400.0 L837.4,401.0 L832.2,403.0 L827.1,409.2 L824.0,416.4 L821.9,421.6 L815.7,428.8 L808.5,434.0 L802.3,440.1 L806.4,440.0 L801.3,448.2 L795.1,456.5 L792.0,468.9 L793.1,479.2 L795.1,487.4 L801.3,497.7 L808.5,508.0 L813.7,516.3 L818.8,522.4 L821.9,530.7 L827.1,538.9 L832.2,547.2 L835.3,555.4 L836.7,565.7 L837.4,576.0 L835.3,584.3 L830.1,591.5 L824.0,593.5 L818.8,591.5 L814.7,584.3 L809.5,579.1 L804.4,576.0 L801.3,568.8 L796.1,567.8 L793.1,561.6 L788.9,556.4 L785.8,551.3 L780.7,543.1 L777.6,534.8 L779.7,526.6 L776.6,519.3 L770.4,515.2 L766.3,508.0 L761.1,503.9 L753.9,499.8 L747.7,499.8 L742.6,502.9 L736.4,509.0 L728.1,510.1 L724.0,504.9 L718.9,499.8 L710.6,496.7 L702.4,496.7 L697.0,497.5 L684.5,500.0 L683.0,500.8 L677.9,501.8 L676.8,496.1 L674.8,501.8 L669.6,502.9 L661.4,504.3 L653.1,506.0 L648.0,510.1 L644.9,513.2 L648.0,517.3 L644.9,521.4 L651.1,523.5 L655.2,525.5 L661.0,528.6 L656.2,533.8 L653.1,529.7 L646.9,526.6 L642.8,523.5 L638.7,521.4 L637.7,527.6 L632.5,529.7 L627.4,532.7 L622.2,530.7 L616.0,527.6 L612.9,522.4 L605.7,520.4 L602.6,522.4 L595.4,524.5 L587.2,522.0 L578.9,521.0 L568.6,522.9 L562.4,524.1 L557.3,524.9 L550.1,530.7 L541.8,538.5 L533.6,544.7 L524.3,550.3 L517.1,555.4 L510.9,561.6 L506.4,568.8 L503.7,577.1 L504.3,586.3 L506.8,595.6 L509.9,601.8 L506.0,605.0 L486.0,597.5 L473.5,592.5 L468.5,582.5 L466.0,572.5 L458.5,562.5 L448.5,545.0 L441.0,532.5 L429.8,522.5 L414.8,520.0 L406.0,525.0 L397.2,536.2 L382.2,525.0 L373.5,516.2 L368.5,502.5 L361.0,492.5 L348.5,482.5 L341.0,469.5 L340.0,472.4 L311.8,471.2 L311.0,479.1 L296.0,477.3 L259.1,473.8 L197.6,437.8 L203.7,432.5 L157.5,429.2 L156.2,420.5 L152.5,410.5 L142.5,398.0 L137.5,390.5 L123.8,380.5 L108.8,373.0 L107.5,358.0 L102.5,345.5 L95.0,330.5 L97.5,323.0 L91.2,308.0 L87.5,290.5 L82.5,273.0 L80.0,258.0 L82.5,230.0 L87.5,215.0 L89.5,206.2 L90.0,190.0 L95.0,180.0 L103.8,170.0 L110.0,155.0 L115.0,135.0 L117.5,122.5 L120.0,102.5 L121.2,85.0 L120.7,73.7 L128.5,80.8 L136.3,83.5 L141.4,84.3 L146.0,84.0 L149.5,78.0 L150.1,68.6Z" stroke-width="1.5"/>
</g>
<g fill="none" stroke="#4a4a4a" stroke-width=".9" stroke-linejoin="round">
<path d="M615.6,131.8 L620.3,121.9 L633.7,108.6 L654.0,111.0 L660.3,110.7 L665.0,118.8 L669.7,124.3 L682.3,125.9 L683.8,132.1 L689.3,136.8 L690.1,144.7 L693.2,146.2 L692.4,152.5 L696.4,154.1 L697.9,157.2"/>
<path d="M708.6,164.3 L712.0,157.5 L737.0,156.2 L749.5,157.5 L757.0,167.5 L767.0,176.2 L764.5,182.5 L752.0,185.0 L742.0,173.8 L738.2,175.0 L744.5,190.0 L742.0,215.0 L734.5,225.0 L735.8,230.0"/>
<path d="M714.5,164.5 L722.0,161.2 L734.5,160.0 L736.5,166.2 L729.5,167.5 L719.5,165.0 L714.5,164.5"/>
<path d="M728.0,245.8 L736.6,244.3 L746.0,234.9 L755.4,228.6 L766.4,226.2 L771.8,226.2 L766.4,222.3 L778.9,219.2 L788.3,216.1"/>
<path d="M785.2,209.0 L774.5,207.5 L777.0,201.2 L792.0,191.2 L807.0,183.8 L824.5,176.2 L828.2,173.8"/>
</g>
<g fill="#fff" stroke="#4a4a4a" stroke-width=".8" stroke-linejoin="round">
<path d="M858.0,346.2 L868.0,345.0 L874.2,355.0 L875.0,362.5 L868.0,370.0 L861.8,372.5 L863.0,362.5 L856.8,355.0Z"/>
<path d="M259.3,250.3 L263.4,252.4 L265.5,257.5 L270.6,255.5 L274.8,259.6 L272.7,265.8 L274.8,270.9 L266.5,273.0 L261.4,265.8 L259.3,257.5Z"/>
<path d="M814.5,551.2 L820.8,549.5 L823.2,555.0 L820.8,558.8 L815.8,557.5Z"/>
<path d="M730.3,232.5 L735.0,231.7 L736.9,235.6 L733.4,238.3 L730.3,237.2Z"/>
<path d="M637.4,523.2 L637.2,525.4 L635.3,527.2 L635.1,527.9M658.2,525.3 L661.1,528.0 L662.0,528.7 L660.0,525.8 L660.1,523.2M636.9,530.9 L635.3,529.7 L632.3,527.2 L633.2,526.6 L633.5,529.2M651.9,522.0 L649.4,523.5 L648.8,525.6M634.3,534.1 L631.3,532.3 L633.8,532.1 L636.7,531.5 L634.1,532.3M652.9,515.3 L651.8,512.4 L651.2,515.0M639.1,526.6 L638.8,524.7 L640.2,522.5M654.1,516.3 L652.3,515.6 L654.5,516.5M652.6,516.9 L651.9,514.4 L650.2,515.2 L647.3,514.4M643.8,530.6 L646.0,528.7 L644.0,531.2M654.8,514.8 L652.7,515.6 L653.0,516.7M628.1,528.1 L626.6,530.1 L627.2,528.8 L625.3,530.1M642.5,531.2 L640.0,529.5 L642.4,531.0 L639.9,530.4 L638.4,527.7M662.1,510.5 L664.5,513.4 L665.4,514.5M659.1,527.1 L656.3,527.9 L656.2,529.3M650.9,532.5 L652.4,530.3 L655.1,529.3 L652.6,529.2 L650.1,531.3M660.8,508.8 L661.2,509.6 L660.5,510.1 L661.1,507.6M657.7,527.8 L660.3,529.0 L660.1,528.7 L660.3,528.9M661.4,511.1 L662.3,511.0 L664.7,510.2 L662.6,510.9 L662.7,512.4M632.2,533.3 L634.6,532.3 L635.6,530.5 L635.2,532.3M659.3,531.9 L657.7,534.5 L655.9,532.3 L655.0,534.6M662.5,530.4 L662.2,529.0 L660.5,528.5M645.7,521.4 L647.0,523.5 L647.7,522.4 L649.7,521.1M644.8,526.4 L645.2,525.3 L647.0,522.4 L644.8,522.1M637.2,525.1 L638.0,524.3 L635.5,522.5 L637.4,521.1 L638.7,522.6M626.7,529.2 L627.9,529.3 L628.6,530.8 L628.0,532.6 L630.4,530.1M660.2,527.6 L659.9,525.8 L662.2,522.9M642.1,525.8 L643.9,528.4 L643.6,529.3 L641.9,530.7 L643.8,531.5M650.0,513.8 L652.9,516.7 L653.1,518.4 L652.0,520.9M656.6,517.5 L653.8,516.5 L653.3,515.2M659.6,513.9 L659.2,511.1 L659.4,512.3M659.4,520.8 L661.8,520.9 L662.9,520.5 L665.2,521.0 L666.3,522.6M636.8,523.2 L637.2,521.2 L637.3,523.6 L635.8,524.7 L638.6,526.9M644.9,516.3 L647.7,516.4 L648.1,514.6M641.4,521.7 L640.7,521.9 L637.9,524.4 L638.2,527.4 L635.9,524.9M623.9,533.3 L623.4,536.1 L625.9,534.7 L625.8,532.4M636.6,530.2 L636.7,527.8 L636.2,525.0 L634.8,526.2M662.3,509.0 L660.7,510.1 L659.6,509.2M650.6,511.3 L651.4,512.6 L652.6,514.9 L649.7,515.7 L651.7,516.4M641.5,531.5 L642.3,531.7 L644.4,532.3 L646.6,530.7 L648.0,532.6" fill="none" stroke="#505050" stroke-width="1.0" stroke-linejoin="round" stroke-linecap="round"/>
<path d="M557.3,524.9 L550.1,530.7 L541.8,538.5 L533.6,544.7 L524.3,550.3 L517.1,555.4 L510.9,561.6 L506.4,568.8 L503.7,577.1 L504.3,586.3 L506.8,595.6 L509.9,601.8" fill="none" stroke="#505050" stroke-width="2.2" stroke-linejoin="round"/>
<path d="M923.1,162.2 L924.6,164.2 L925.3,165.0 L927.2,165.7 L925.6,163.5M915.6,167.5 L917.2,168.8 L919.4,170.2 L918.2,172.0M936.2,149.7 L938.2,150.4 L938.9,149.6 L939.4,150.3M935.0,143.0 L935.1,141.8 L934.9,142.3M918.0,168.1 L918.7,166.4 L918.3,168.3 L920.2,169.8M923.5,157.9 L925.7,158.0 L927.4,155.7M947.4,139.6 L946.4,137.3 L946.4,139.3M943.7,141.3 L945.3,139.9 L945.0,138.6 L946.3,139.0 L946.0,139.8M913.9,173.8 L915.2,172.2 L915.1,172.5 L914.3,171.4 L914.0,169.6M947.4,139.4 L947.9,138.3 L947.1,136.3 L947.1,136.8M953.6,131.1 L955.6,131.3 L953.7,128.9M946.5,139.2 L945.1,140.8 L943.8,142.2 L945.2,140.7 L944.6,138.5M935.4,141.5 L933.2,139.1 L934.3,137.1 L935.4,139.0M928.1,152.0 L925.7,154.0 L925.6,154.0M941.3,143.3 L939.5,141.0 L939.5,143.2 L938.3,143.1 L938.9,141.8M932.5,149.0 L934.9,148.7 L934.5,149.0M919.4,163.2 L918.4,162.2 L917.2,163.7 L918.3,163.3M917.0,165.5 L918.6,164.1 L917.6,162.1M916.3,167.7 L916.0,167.3 L914.2,164.8 L914.3,163.5M935.8,148.3 L937.1,146.1 L936.9,144.1 L938.7,144.1 L938.4,142.3M953.8,130.9 L955.8,128.6 L955.0,129.8 L954.8,131.5M918.8,166.4 L920.1,165.9 L919.5,164.5 L920.3,162.9M949.8,138.7 L950.8,138.4 L951.9,139.0M920.6,164.4 L920.7,162.7 L919.0,164.3 L921.4,162.7M937.6,147.7 L935.9,148.0 L933.7,145.6 L934.4,146.7 L936.3,147.6M922.0,161.5 L920.9,162.6 L920.7,161.2M936.9,149.4 L939.3,147.0 L938.8,145.0M934.3,151.8 L932.9,150.0 L933.5,150.8 L931.0,153.1M940.9,140.9 L941.0,139.4 L939.0,141.8 L936.7,140.4 L936.0,142.4M924.6,156.1 L925.6,155.0 L924.2,154.7M921.3,161.8 L920.5,160.6 L921.0,159.7 L918.9,158.8 L918.5,159.8M928.1,155.4 L926.3,157.1 L925.6,158.8 L926.1,159.4 L925.4,159.8M929.8,154.0 L927.8,152.5 L929.8,154.7M917.3,170.2 L916.8,171.0 L918.6,170.5 L916.5,169.4M919.7,162.0 L918.9,163.9 L917.7,162.3 L916.8,160.2 L915.0,158.9M931.9,145.9 L929.9,148.1 L932.3,150.5 L933.7,152.2M920.0,163.1 L920.2,162.7 L918.1,162.4M938.3,148.2 L938.0,147.2 L940.0,147.5M932.6,153.5 L934.9,154.7 L934.0,156.6 L936.1,154.5 L935.7,154.7M945.7,138.9 L945.4,137.1 L945.4,135.6 L942.9,137.9 L941.3,135.6M917.3,170.5 L918.5,170.9 L918.2,171.9M940.8,145.4 L938.5,144.2 L936.8,143.3 L937.5,142.8 L936.1,141.7M932.3,151.8 L932.9,151.0 L932.8,151.5 L934.1,149.6 L936.1,148.6M929.9,154.8 L928.5,153.1 L928.4,155.6M934.0,146.5 L931.5,146.6 L931.1,145.6" fill="none" stroke="#505050" stroke-width="1.1" stroke-linejoin="round" stroke-linecap="round"/>
<path d="M621.9,134.2 L629.0,128.2 L630.8,127.0 L631.3,127.9 L624.3,133.7Z" fill="#B42D06" stroke="#4a4a4a" stroke-width=".9"/>
<path d="M850.8,274.5 L846.0,279.5 L844.8,285.0 L846.2,293.2 L848.8,302.0 L851.8,312.5 L855.5,322.5 L860.0,329.5 L864.2,330.5" fill="none" stroke="#505050" stroke-width="5.5" stroke-linejoin="round" stroke-linecap="round"/>
<path d="M848.8,306.2 L840.5,301.2 L833.5,299.5" fill="none" stroke="#505050" stroke-width="2.2"/>
<path d="M852.5,317.5 L845.5,317.0 L841.0,318.0" fill="none" stroke="#505050" stroke-width="2"/>
<path d="M856.0,326.2 L846.8,324.5 L839.2,327.5" fill="none" stroke="#505050" stroke-width="2"/>
<path d="M846.0,279.5 L844.8,285.0 L846.2,293.2 L848.8,302.0 L851.8,312.5 L855.5,322.5 L860.0,329.5 L864.2,330.5" fill="none" stroke="#fff" stroke-width="2.6" stroke-linejoin="round" stroke-linecap="round"/>
<path d="M878.1,242.8 L879.5,238.4 L887.3,234.5 L894.2,230.5 L899.1,227.6 L903.0,227.1 L905.4,228.1 L897.1,235.4 L887.3,242.3 L878.1,245.7Z" fill="#B0B0B0" stroke-width="1.2"/>
</g>
<g fill="#505050" stroke="#505050" stroke-width=".6" stroke-linejoin="round">
<path d="M141.8,72.5 L147.3,71.8 L150.5,74.1 L152.0,78.0 L148.9,80.4 L144.2,79.6 L142.6,76.5Z"/>
<path d="M147.3,81.9 L152.0,80.4 L153.6,85.9 L152.8,90.6 L149.7,94.5 L148.9,100.8 L146.5,104.7 L141.8,107.8 L136.3,107.8 L135.2,105.5 L137.9,102.3 L141.8,102.7 L144.2,100.8 L139.5,99.2 L136.3,100.8 L137.9,96.8 L141.8,95.3 L142.6,92.9 L145.8,91.3 L147.3,86.6 L146.1,84.3Z"/>
</g>
<g fill="none" stroke="#4a4a4a" stroke-width="1.2" stroke-linejoin="round" stroke-linecap="round">
<path d="M91.2,308.0 L92.5,299.2 L97.5,291.8 L110.0,298.0 L98.8,295.5 L95.0,301.8 L97.5,306.8"/>
<path d="M921.5,209.1 L926.4,207.6 L930.3,206.1 L930.8,203.7 L928.4,201.1 L924.5,199.8" stroke-width="1.3"/>
<path d="M926.4,215.4 L929.8,215.9 L932.8,215.4" stroke-width="1.5"/>
<path d="M787.0,608.8 L804.5,607.0 L817.0,602.5 L827.0,596.2 L832.0,592.5" stroke-width="1.2" stroke-dasharray="3 1.5"/>
<path d="M107.5,386.0 L125.0,389.2" stroke-width="1.5" stroke-dasharray="3 2"/>
<path d="M117.5,405.5 L118.2,406.2" stroke-width="1.5"/><path d="M137.0,405.5 L138.0,408.0" stroke-width="1.5"/><path d="M133.8,413.5 L134.5,418.0" stroke-width="1.5"/>
</g>
<g clip-path="url(#akc)">
<rect x="0" y="430" width="340" height="280" fill="#B0B0B0"/>
<path d="M82.5,455.0 C83.5,459.0 85.5,474.2 88.8,478.8 C92.1,483.4 98.8,480.2 102.5,482.5 C106.2,484.8 109.1,487.5 111.2,492.5 C113.3,497.5 114.3,505.4 115.0,512.5 C115.7,519.6 115.5,527.1 115.5,535.0 C115.5,542.9 114.2,551.7 115.0,560.0 C115.8,568.3 117.5,577.5 120.0,585.0 C122.5,592.5 127.3,600.0 130.0,605.0 C132.7,610.0 134.1,611.6 136.2,615.0 C138.3,618.4 140.2,621.8 142.4,625.2 C144.6,628.7 148.2,634.0 149.4,635.7 L151.2,713.0 L-8.8,713.0 L-8.8,467.0Z" fill="#BFCCE6"/>
<path d="M82.5,455.0 C83.5,459.0 85.5,474.2 88.8,478.8 C92.1,483.4 98.8,480.2 102.5,482.5 C106.2,484.8 109.1,487.5 111.2,492.5 C113.3,497.5 114.3,505.4 115.0,512.5 C115.7,519.6 115.5,527.1 115.5,535.0 C115.5,542.9 114.2,551.7 115.0,560.0 C115.8,568.3 117.5,577.5 120.0,585.0 C122.5,592.5 127.3,600.0 130.0,605.0 C132.7,610.0 134.1,611.6 136.2,615.0 C138.3,618.4 140.2,621.8 142.4,625.2 C144.6,628.7 148.2,634.0 149.4,635.7" fill="none" stroke="#8c8c8c" stroke-opacity=".55" stroke-width=".8"/>

<path d="M66.2,492.5 C66.4,496.2 66.2,508.8 67.5,515.0 C68.8,521.2 72.5,525.0 73.8,530.0 C75.0,535.0 74.4,539.2 75.0,545.0 C75.6,550.8 75.8,558.3 77.5,565.0 C79.2,571.7 81.2,578.8 85.0,585.0 C88.8,591.2 95.0,597.5 100.0,602.5 C105.0,607.5 111.2,611.5 115.0,615.0 C118.8,618.5 120.5,620.8 123.0,623.4 C125.5,626.0 127.8,627.2 130.1,630.4 C132.4,633.6 135.9,640.7 137.1,642.7 L137.1,713.0 L-8.8,713.0 L-8.8,467.0Z" fill="#A1C0DF"/>
<path d="M66.2,492.5 C66.4,496.2 66.2,508.8 67.5,515.0 C68.8,521.2 72.5,525.0 73.8,530.0 C75.0,535.0 74.4,539.2 75.0,545.0 C75.6,550.8 75.8,558.3 77.5,565.0 C79.2,571.7 81.2,578.8 85.0,585.0 C88.8,591.2 95.0,597.5 100.0,602.5 C105.0,607.5 111.2,611.5 115.0,615.0 C118.8,618.5 120.5,620.8 123.0,623.4 C125.5,626.0 127.8,627.2 130.1,630.4 C132.4,633.6 135.9,640.7 137.1,642.7" fill="none" stroke="#8c8c8c" stroke-opacity=".55" stroke-width=".8"/>

<path d="M99.3,636.1 L116.9,647.7 L126.6,656.8 L126.6,713.0 L-8.8,713.0 L-8.8,688.4 L79.1,642.7Z" fill="#78B4E2" stroke="#8c8c8c" stroke-opacity=".55" stroke-width=".8"/>
<path d="M77.3,655.0 L82.6,659.4 L90.5,665.9 L94.9,672.6 L94.9,713.0 L-8.8,713.0 L-8.8,688.4 L66.8,667.3Z" fill="#3A9EDB" stroke="#8c8c8c" stroke-opacity=".55" stroke-width=".8"/>
<path d="M157.0,455.0 C157.1,457.5 157.0,461.7 157.5,470.0 C158.0,478.3 159.7,492.9 160.0,505.0 C160.3,517.1 159.7,533.3 159.2,542.5 C158.7,551.7 156.9,555.2 157.0,560.0 C157.1,564.8 157.8,568.9 160.0,571.2 C162.2,573.5 165.0,573.8 170.0,573.8 C175.0,573.8 182.9,572.0 190.0,571.2 C197.1,570.4 204.6,569.6 212.5,568.8 C220.4,568.0 233.3,566.6 237.5,566.2 L237.5,455.0Z" fill="#E7B26B"/>
<path d="M157.0,455.0 C157.1,457.5 157.0,461.7 157.5,470.0 C158.0,478.3 159.7,492.9 160.0,505.0 C160.3,517.1 159.7,533.3 159.2,542.5 C158.7,551.7 156.9,555.2 157.0,560.0 C157.1,564.8 157.8,568.9 160.0,571.2 C162.2,573.5 165.0,573.8 170.0,573.8 C175.0,573.8 182.9,572.0 190.0,571.2 C197.1,570.4 204.6,569.6 212.5,568.8 C220.4,568.0 233.3,566.6 237.5,566.2" fill="none" stroke="#8c8c8c" stroke-opacity=".55" stroke-width=".8"/>

<path d="M175.5,455.0 C175.6,458.1 175.6,467.6 176.2,473.8 C176.8,480.1 177.3,485.6 178.8,492.5 C180.3,499.4 182.3,508.3 185.0,515.0 C187.7,521.7 191.0,528.1 195.0,532.5 C199.0,536.9 201.7,539.3 208.8,541.2 C215.9,543.1 232.7,543.4 237.5,543.8 L237.5,455.0Z" fill="#E38B4B"/>
<path d="M175.5,455.0 C175.6,458.1 175.6,467.6 176.2,473.8 C176.8,480.1 177.3,485.6 178.8,492.5 C180.3,499.4 182.3,508.3 185.0,515.0 C187.7,521.7 191.0,528.1 195.0,532.5 C199.0,536.9 201.7,539.3 208.8,541.2 C215.9,543.1 232.7,543.4 237.5,543.8" fill="none" stroke="#8c8c8c" stroke-opacity=".55" stroke-width=".8"/>

</g>
<g stroke="#454545" stroke-width="1.4" stroke-linejoin="round">
<path d="M70.0,483.8 L72.5,480.0 L87.5,478.8 L92.5,470.0 L105.0,462.5 L120.0,457.5 L126.2,454.2 L132.5,460.0 L145.0,467.5 L155.0,470.0 L170.0,470.0 L185.0,475.0 L200.0,476.2 L203.8,478.8 L217.5,613.8 L205.0,620.0 L195.0,620.0 L185.0,612.5 L175.0,607.5 L170.0,613.8 L165.0,610.0 L160.0,620.0 L152.5,625.0 L158.2,621.6 L149.4,627.8 L140.6,632.2 L138.9,629.6 L140.6,620.8 L144.1,612.9 L152.9,607.6 L154.7,600.5 L149.4,604.1 L140.6,611.1 L133.6,619.9 L126.6,626.9 L123.0,632.2 L126.6,638.3 L121.3,644.5 L114.3,648.0 L105.5,655.0 L98.4,660.3 L87.9,665.6 L75.6,671.7 L70.3,677.0 L65.0,679.1 L60.6,676.5 L59.8,671.7 L66.8,668.2 L73.8,663.8 L84.4,658.6 L93.2,651.5 L95.8,641.0 L98.4,634.8 L91.4,630.4 L86.1,637.5 L82.6,633.1 L75.6,629.6 L66.8,630.4 L63.3,625.2 L65.9,619.9 L65.0,612.0 L51.0,610.2 L49.2,600.5 L44.8,597.0 L45.7,590.0 L45.0,580.0 L52.5,572.5 L60.0,562.5 L70.0,563.8 L75.0,560.0 L85.0,555.0 L86.2,543.8 L75.0,545.0 L65.0,542.5 L55.0,537.5 L53.8,530.0 L47.5,522.5 L67.5,515.0 L75.0,516.2 L77.5,522.5 L87.5,523.8 L90.0,518.8 L87.5,513.8 L85.0,511.2 L75.0,502.5 L68.8,487.5Z" fill="none"/>
<path d="M215.1,615.6 L220.2,613.6 L230.5,612.6 L232.5,618.7 L244.8,627.9 L253.1,618.7 L259.2,615.6 L265.4,622.8 L275.6,631.0 L283.8,641.3 L294.1,651.5 L304.3,656.7 L312.5,658.7 L313.6,666.9 L310.5,676.1 L302.3,682.3 L294.1,684.3 L287.9,680.2 L279.7,672.0 L273.6,661.8 L265.4,655.6 L257.2,647.4 L248.9,637.2 L240.7,630.0 L228.4,623.8 L216.1,619.7Z" fill="#A1C0DF" stroke-width="1.3"/>
<path d="M16.2,541.2 L20.0,540.0 L25.0,546.2 L31.2,550.0 L33.8,553.8 L28.8,555.0 L23.8,550.0 L18.8,546.2Z" fill="#3A9EDB"/>
<path d="M29.0,599.7 L35.2,597.9 L41.3,600.5 L40.4,604.9 L36.0,607.2 L31.6,604.1Z" fill="#78B4E2"/>
<path d="M114.3,657.7 L117.8,655.0 L123.0,651.5 L130.1,646.2 L135.3,641.9 L138.9,646.2 L134.5,651.5 L133.6,657.7 L126.6,662.1 L121.3,665.6 L116.0,667.3 L114.3,671.7 L115.1,663.8Z" fill="#78B4E2" stroke-width="2"/>
<path d="M261.8,637.0 L261.7,639.0 L261.5,639.8 L259.4,640.6 L261.6,640.8M293.5,663.4 L291.5,666.2 L288.7,667.8M296.0,674.5 L296.0,673.9 L295.1,674.4 L295.6,676.8M289.6,679.0 L292.6,680.0 L290.5,682.2 L293.3,684.6M282.2,666.0 L283.0,668.9 L281.6,666.7M276.5,661.4 L274.0,663.2 L273.5,661.2 L272.2,662.8M257.8,647.5 L256.3,648.6 L259.2,647.7 L258.4,645.5 L260.6,644.7M301.8,664.0 L302.5,666.6 L302.5,666.2M279.0,656.0 L280.8,658.9 L279.7,658.2M277.0,658.5 L274.1,657.7 L274.9,656.5 L275.5,654.5 L273.6,656.1M298.2,681.6 L299.6,680.4 L298.0,682.3 L296.4,680.4 L296.0,681.6M255.9,643.2 L254.2,643.6 L252.9,645.3 L250.1,648.0 L248.9,650.1M275.3,661.2 L274.9,660.6 L277.4,658.6 L274.4,661.2M293.8,673.4 L295.3,676.2 L295.5,678.5 L297.7,680.7 L300.5,678.4M252.3,630.4 L252.1,632.1 L251.2,630.3 L251.4,632.2 L249.5,633.9M305.4,671.6 L305.3,672.0 L304.7,673.5M301.1,669.7 L298.9,667.1 L301.7,669.2M265.6,641.8 L264.9,641.2 L263.7,639.8 L266.6,639.3M253.2,623.0 L252.5,620.5 L250.5,619.7 L251.2,621.4 L250.4,623.2M269.3,652.8 L268.2,655.5 L267.7,652.6 L266.0,651.2 L266.5,653.1M259.5,630.7 L262.2,629.9 L264.6,631.7M262.0,650.9 L264.7,652.3 L266.8,652.5M298.1,666.2 L296.0,667.8 L293.3,665.3 L290.8,667.6M300.2,663.5 L303.0,664.0 L304.8,661.2 L306.4,661.3 L307.6,658.9M294.0,679.3 L294.3,681.6 L292.4,679.0M274.6,665.2 L273.2,665.8 L275.8,666.1 L278.6,665.3M272.1,657.2 L273.1,657.3 L273.0,658.1 L275.4,656.0 L273.0,657.5M257.0,639.0 L254.9,639.1 L257.5,641.2M280.1,670.0 L281.4,669.4 L283.5,669.9 L282.1,668.3 L279.2,668.1M268.5,642.3 L268.0,643.5 L269.2,641.7M307.1,670.2 L306.9,668.6 L305.3,669.9M257.3,638.4 L258.0,639.5 L255.2,642.1M255.9,625.5 L255.5,626.9 L253.0,624.5M266.8,649.2 L264.3,650.1 L265.7,650.0 L263.5,648.9M273.2,649.3 L275.7,646.9 L278.3,646.2 L280.0,647.7 L278.7,648.8M287.8,671.6 L285.4,674.2 L284.4,674.6 L284.6,675.6M293.6,661.9 L294.4,659.9 L296.7,660.9 L294.4,663.5 L292.3,662.5M292.1,658.9 L290.9,657.1 L290.8,658.8 L292.1,656.4 L290.2,656.7M251.4,639.2 L253.6,636.4 L253.6,634.9M266.7,647.2 L268.5,644.6 L268.5,647.6 L266.4,648.1 L267.5,648.5M290.7,657.1 L292.1,659.0 L293.6,659.6 L291.5,658.9 L289.7,659.1M270.0,656.2 L268.8,656.2 L269.0,657.5 L271.4,658.5 L268.6,656.6M252.1,639.9 L254.5,637.8 L256.2,638.5 L253.5,637.6 L251.9,635.1M305.7,666.1 L308.7,669.1 L306.9,666.5 L305.1,667.7 L303.4,666.6M300.3,665.5 L300.3,666.7 L300.5,666.2 L301.4,665.1M303.9,666.3 L306.0,666.0 L305.2,665.4 L308.0,667.3M261.8,645.2 L262.0,643.1 L259.1,643.6 L259.2,644.4M304.5,676.2 L302.1,676.1 L300.1,676.8M264.5,637.9 L261.7,636.9 L264.7,635.8 L262.0,635.5M303.9,668.6 L305.7,671.1 L308.4,668.3 L307.2,669.0M293.4,667.2 L292.6,665.3 L294.4,664.9 L294.0,666.2 L293.1,668.1M278.1,668.3 L279.3,671.0 L276.6,669.1 L278.1,671.0 L275.6,672.2M284.3,671.3 L286.5,673.5 L286.2,675.9M252.0,627.7 L250.3,628.8 L253.2,631.4 L251.0,634.3 L248.7,633.1M278.7,653.3 L277.6,655.6 L279.3,655.5 L280.0,652.7 L281.9,653.3M299.0,664.0 L299.9,665.5 L302.1,664.6M283.9,672.1 L281.6,669.1 L280.3,670.0M267.2,634.4 L269.8,635.5 L269.0,637.2M258.4,636.0 L259.1,638.6 L259.3,638.1 L262.0,640.6 L264.7,640.5M256.9,628.6 L254.8,628.6 L252.2,628.5 L250.4,626.7 L250.3,623.9M263.5,645.5 L262.7,643.5 L261.6,643.2 L261.7,643.5 L260.9,645.6M263.5,650.8 L265.4,649.6 L263.8,651.4 L260.9,649.2M279.7,655.2 L282.4,652.2 L285.3,654.0M268.6,656.2 L266.7,653.3 L266.3,652.3 L263.6,652.6M272.3,638.6 L269.5,635.8 L272.4,633.8M307.4,667.8 L307.5,669.8 L307.8,668.5 L305.8,665.6M287.1,677.1 L286.9,678.1 L289.4,679.9 L290.0,679.4M271.6,644.1 L270.3,642.6 L269.0,642.8 L269.4,640.6M252.4,630.4 L253.9,629.0 L253.6,626.4 L250.8,626.4 L252.3,628.3M274.2,641.6 L272.3,640.9 L274.3,639.8 L272.9,642.5M270.6,639.9 L270.1,639.3 L272.5,639.3M307.7,667.4 L307.8,668.9 L309.8,669.7 L311.8,666.7 L310.4,669.5M289.1,661.9 L288.5,660.0 L289.2,658.9M254.8,635.8 L254.4,633.9 L251.5,631.5M252.4,640.6 L251.5,643.1 L248.9,641.3 L251.6,644.3M276.7,665.4 L276.5,666.8 L276.7,668.9 L276.3,668.4M255.2,630.2 L258.1,631.3 L258.3,632.9 L255.8,633.2M278.1,645.4 L278.6,646.6 L280.2,648.0 L279.3,649.1M264.4,633.8 L264.4,635.2 L263.4,636.1 L262.1,638.9 L261.8,638.8M273.8,660.2 L273.3,660.5 L274.0,659.2M260.3,645.9 L263.2,645.1 L261.5,645.4M301.8,665.8 L298.9,665.1 L298.1,664.7 L300.5,665.8M265.4,649.7 L267.4,651.7 L269.9,651.4 L271.0,649.1M263.6,634.3 L264.2,631.8 L261.4,630.9M256.9,639.4 L255.1,640.2 L255.6,642.9 L254.4,641.6M286.9,667.9 L284.3,670.2 L285.7,669.1M287.1,676.1 L289.4,674.3 L288.8,671.9M288.3,654.8 L288.7,653.8 L289.2,654.3M268.7,654.1 L270.4,656.6 L272.5,658.0 L270.7,655.4M273.2,641.7 L273.2,643.8 L271.3,641.4M266.3,637.7 L268.3,635.1 L267.7,634.4 L265.8,632.9 L264.3,634.1M288.9,659.7 L290.0,659.9 L290.6,659.4M256.4,641.1 L253.8,642.8 L255.9,642.7 L256.4,641.3M303.8,664.3 L303.2,664.3 L303.1,663.7M285.5,668.7 L286.8,667.7 L288.2,668.2M274.1,652.6 L273.2,653.4 L274.0,654.6 L276.8,655.2 L277.3,656.3M263.8,642.4 L265.8,643.9 L264.5,640.9 L265.6,642.3M267.8,651.8 L265.9,650.5 L264.1,652.5 L265.3,651.5 L263.3,654.0M276.7,655.5 L274.9,655.0 L275.4,652.6 L272.7,652.5M255.8,628.9 L253.5,628.2 L253.8,627.1 L252.5,627.0 L253.6,625.4M261.9,635.6 L261.8,635.2 L260.4,638.0M296.8,667.2 L294.3,668.4 L295.8,666.7M280.6,658.2 L278.5,655.4 L278.1,652.4 L279.8,650.2M290.7,661.8 L287.9,662.1 L289.4,664.6 L287.6,662.6M309.2,667.5 L308.8,666.3 L306.5,665.3 L308.4,666.7M261.8,628.1 L264.1,625.9 L261.2,623.4M256.0,624.8 L257.4,626.8 L256.6,624.0 L254.8,621.1 L255.0,623.7M292.2,660.7 L291.9,662.5 L291.0,660.9 L290.5,658.5M280.6,658.9 L278.2,658.4 L278.8,656.7 L278.5,656.8M286.6,671.2 L288.4,671.2 L286.0,673.8M283.0,660.5 L283.2,659.4 L283.3,657.7 L283.4,656.5M249.6,626.9 L251.0,628.5 L248.2,625.7M278.2,651.8 L275.5,652.9 L274.3,652.7M264.5,641.3 L263.4,641.6 L262.8,642.5M260.4,632.4 L260.6,634.0 L260.6,634.8 L258.1,635.8M289.2,678.8 L290.2,677.8 L291.9,677.4 L291.0,680.1M266.0,651.9 L264.6,651.8 L263.1,650.9 L264.0,652.4 L266.7,652.2M258.1,643.2 L259.1,646.2 L256.4,645.6M270.1,642.1 L268.2,642.1 L266.7,644.4 L267.1,643.5 L266.7,640.7M293.0,668.2 L295.4,667.6 L295.5,665.4 L297.8,667.0" fill="none" stroke="#505050" stroke-width="1.2" stroke-linejoin="round" stroke-linecap="round"/>
<path d="M136.5,645.3 L138.7,644.6 L136.3,643.1 L137.7,642.5M116.1,660.3 L113.8,657.3 L116.1,655.6 L114.4,658.5M131.0,648.0 L129.2,650.8 L128.5,647.9 L127.9,650.5 L126.5,649.5M121.8,662.7 L121.7,663.9 L119.1,666.7M135.1,642.4 L134.3,642.9 L131.3,640.2 L129.4,642.9M119.1,664.4 L118.2,663.5 L118.3,665.2 L116.0,666.7M127.7,651.2 L126.5,653.0 L127.3,654.3 L126.2,654.2M115.1,664.0 L117.0,663.7 L116.6,661.0 L119.1,658.2M117.5,663.7 L118.3,665.4 L115.9,665.0M121.6,655.4 L123.7,658.3 L123.4,658.2 L124.8,658.1 L123.5,657.5M129.7,656.8 L127.8,656.7 L127.9,657.0 L127.9,654.4M133.9,652.5 L134.8,654.1 L134.0,655.3 L132.7,655.2 L134.3,656.3M130.3,659.2 L130.1,660.8 L129.1,659.5M121.4,656.8 L123.2,655.9 L124.1,657.3 L126.0,656.4 L128.1,658.6M118.5,665.2 L118.6,667.8 L117.4,668.1 L119.6,666.7 L122.6,664.9M128.7,660.5 L127.0,661.6 L127.8,658.9M125.7,653.2 L123.2,651.5 L124.5,650.7 L123.6,653.4 L125.7,655.6M131.2,658.2 L131.5,657.0 L130.3,657.1M124.4,658.7 L123.6,656.6 L124.2,656.9 L126.9,659.7 L127.6,658.9M117.0,658.8 L117.2,657.7 L119.5,658.1 L119.0,661.0 L119.0,660.8M131.7,653.3 L132.3,651.9 L135.2,651.9M124.5,651.4 L124.5,650.1 L124.3,647.9 L125.1,647.5" fill="none" stroke="#505050" stroke-width="1.1" stroke-linejoin="round" stroke-linecap="round"/>
<path d="M170.7,608.0 L168.0,610.0 L165.6,610.4 L168.1,608.7 L165.6,608.2M168.2,615.0 L170.1,612.7 L168.5,613.5M189.9,615.4 L187.2,613.8 L187.5,611.6 L187.0,611.8M178.3,615.1 L176.4,615.6 L177.2,614.9 L177.5,612.2 L174.9,610.5M181.7,612.8 L181.5,615.4 L180.7,613.9 L178.7,615.6M176.0,611.4 L174.7,614.3 L172.4,613.8 L174.0,611.7M175.8,606.1 L173.3,606.4 L175.0,608.3 L174.1,607.4 L174.0,609.2M169.1,617.5 L166.5,618.7 L167.3,621.7M186.0,610.4 L188.4,609.4 L191.0,608.6 L191.7,608.5M167.5,610.4 L166.0,609.7 L168.2,607.2 L167.9,607.5 L170.2,609.4M187.3,610.2 L190.2,611.3 L189.5,609.7 L187.0,607.6M169.5,607.9 L168.7,608.3 L171.4,609.5 L171.5,610.2 L172.5,607.5M172.8,612.3 L172.7,611.7 L170.9,614.7M174.3,607.3 L171.6,604.3 L169.6,601.9 L168.7,599.1 L171.0,599.8M165.4,609.8 L166.0,609.6 L163.7,609.6 L166.5,609.4M170.4,607.9 L169.4,606.5 L171.4,604.5 L168.5,607.2 L168.7,605.1M177.5,605.9 L176.3,606.7 L173.8,608.8 L173.9,611.3 L173.1,609.6M177.4,614.1 L175.8,616.0 L178.7,618.1 L180.5,620.0 L181.9,618.4M176.7,611.6 L179.6,613.3 L179.5,611.5M179.4,611.4 L182.3,614.1 L181.5,612.4 L179.9,610.6 L178.1,611.4M175.5,616.8 L173.0,617.7 L175.5,619.4 L177.0,619.3 L175.1,621.0M171.0,619.3 L170.4,618.7 L173.1,620.1 L171.1,617.9 L169.0,620.3M181.0,611.5 L181.3,608.6 L183.1,610.0 L180.7,611.5 L178.5,614.4M166.8,620.6 L165.3,619.4 L163.7,619.9M168.8,612.7 L166.1,614.1 L168.5,615.1M185.8,614.4 L183.6,612.3 L183.7,614.5 L185.3,615.2 L187.0,613.1M165.1,616.2 L165.5,615.1 L165.6,615.5M178.0,609.7 L175.3,607.3 L175.0,604.5 L177.3,601.9M179.4,608.9 L179.1,609.1 L179.0,611.7 L180.2,614.0M164.5,613.1 L165.6,612.7 L163.8,611.5M164.6,618.9 L165.4,618.1 L163.9,615.9 L163.7,617.4 L161.3,619.7M165.8,617.0 L163.8,616.6 L163.9,615.6M166.8,610.9 L166.0,610.0 L165.8,611.2 L165.1,611.3 L163.8,614.1M164.3,621.4 L167.1,619.0 L165.7,616.2M184.7,610.1 L186.6,612.2 L187.7,614.9M173.3,614.7 L173.7,615.9 L171.2,613.3 L172.4,612.8 L169.8,615.5M174.7,611.3 L174.2,613.8 L175.0,611.1 L176.2,613.7 L179.0,612.3M166.4,621.6 L165.2,623.2 L163.9,623.2 L162.0,622.3 L159.1,620.8M177.7,608.7 L176.2,608.4 L177.1,609.3 L178.1,609.6M170.2,609.1 L169.3,611.1 L170.5,612.0M173.2,611.4 L175.2,608.5 L176.0,610.8M174.0,606.4 L176.1,608.6 L177.1,607.3 L175.5,606.0 L175.3,604.0M174.5,610.0 L177.3,610.3 L175.8,613.1 L174.6,612.2M175.4,614.1 L173.9,615.8 L171.4,617.7M165.2,615.6 L162.4,614.4 L160.7,614.9 L160.9,616.5" fill="none" stroke="#505050" stroke-width="1.3" stroke-linejoin="round" stroke-linecap="round"/>
<path d="M60.6,678.2 L52.7,680.0 L44.8,682.8 L42.2,681.4 L35.2,684.9 L26.4,687.0 L19.3,688.8 L14.9,688.4 L10.5,692.3" fill="none" stroke="#505050" stroke-width="2.4" stroke-dasharray="7 1.5 3 2" stroke-linejoin="round"/>
<path d="M27.2,683.2 L30.8,680.0 L37.8,678.8 L43.1,679.6 L41.3,682.8 L34.3,684.6 L28.1,685.3Z" fill="#3A9EDB" stroke="#505050" stroke-width="1.2"/>
<path d="M121.2,773.7 L127.8,771.7 L132.8,773.0 L142.8,775.0 L149.4,773.0 L156.0,777.0 L164.3,774.7 L172.6,773.0 L180.9,775.0 L185.9,773.0 L195.9,773.7 L202.5,775.7 L209.2,776.3" fill="none" stroke="#505050" stroke-width="1.6"/>
<path d="M262.3,763.7 L268.9,760.4 L273.9,758.1 L280.5,753.7 L285.5,751.8 L292.2,749.1 L298.8,745.8 L303.8,743.1 L308.8,739.1 L315.4,736.5 L322.7,733.8" fill="none" stroke="#505050" stroke-width="1.8"/>
<path d="M72.4,755.7 L77.0,753.1 L79.7,751.8" fill="none" stroke="#505050" stroke-width="1.5"/><path d="M89.0,765.0 L94.6,768.4 L99.6,773.0" fill="none" stroke="#505050" stroke-width="1.5"/>
<ellipse cx="21.2" cy="715.9" rx="4.0" ry="2.1" fill="#78B4E2" stroke-width=".8"/>
<ellipse cx="33.2" cy="723.2" rx="1.2" ry="0.7" fill="#555" stroke-width=".8"/>
<ellipse cx="26.6" cy="729.2" rx="2.0" ry="0.9" fill="#555" stroke-width=".8"/>
<ellipse cx="58.1" cy="740.5" rx="0.7" ry="0.7" fill="#555" stroke-width=".8"/>
<ellipse cx="77.0" cy="753.7" rx="3.0" ry="1.2" fill="#555" stroke-width=".8"/>
<ellipse cx="87.0" cy="758.1" rx="2.0" ry="1.2" fill="#555" stroke-width=".8"/>
<ellipse cx="94.6" cy="769.7" rx="3.5" ry="1.4" fill="#555" stroke-width=".8"/>
<ellipse cx="105.2" cy="761.4" rx="1.5" ry="1.2" fill="#78B4E2" stroke-width=".8"/>
<ellipse cx="126.2" cy="769.7" rx="1.2" ry="0.9" fill="#78B4E2" stroke-width=".8"/>
<ellipse cx="137.8" cy="771.3" rx="2.5" ry="1.4" fill="#78B4E2" stroke-width=".8"/>
<ellipse cx="147.7" cy="774.7" rx="3.0" ry="1.2" fill="#555" stroke-width=".8"/>
<ellipse cx="157.7" cy="776.3" rx="4.5" ry="1.4" fill="#555" stroke-width=".8"/>
<ellipse cx="166.0" cy="771.7" rx="2.2" ry="1.4" fill="#78B4E2" stroke-width=".8"/>
<ellipse cx="179.3" cy="773.7" rx="6.2" ry="1.2" fill="#555" stroke-width=".8"/>
<ellipse cx="192.6" cy="769.0" rx="2.2" ry="1.6" fill="#78B4E2" stroke-width=".8"/>
<ellipse cx="200.9" cy="775.0" rx="5.5" ry="0.9" fill="#555" stroke-width=".8"/>
<ellipse cx="215.8" cy="771.3" rx="2.0" ry="1.2" fill="#78B4E2" stroke-width=".8"/>
<ellipse cx="234.1" cy="769.0" rx="1.5" ry="0.9" fill="#555" stroke-width=".8"/>
<ellipse cx="240.7" cy="766.4" rx="1.5" ry="0.9" fill="#555" stroke-width=".8"/>
<ellipse cx="252.3" cy="761.4" rx="2.0" ry="1.4" fill="#555" stroke-width=".8"/>
<ellipse cx="267.3" cy="759.7" rx="3.5" ry="1.9" fill="#3A9EDB" stroke-width=".8"/>
<ellipse cx="277.2" cy="751.4" rx="3.5" ry="2.3" fill="#3A9EDB" stroke-width=".8"/>
<ellipse cx="287.2" cy="749.8" rx="3.5" ry="1.4" fill="#555" stroke-width=".8"/>
<ellipse cx="295.5" cy="742.5" rx="3.0" ry="2.1" fill="#3A9EDB" stroke-width=".8"/>
<ellipse cx="302.1" cy="744.8" rx="4.5" ry="1.9" fill="#555" stroke-width=".8"/>
<ellipse cx="307.1" cy="735.5" rx="2.0" ry="1.4" fill="#78B4E2" stroke-width=".8"/>
<ellipse cx="315.4" cy="734.8" rx="3.5" ry="0.9" fill="#555" stroke-width=".8"/>
<ellipse cx="323.7" cy="723.9" rx="2.2" ry="3.3" fill="#78B4E2" stroke-width=".8"/>
<path d="M333.3,646.5 L334.9,638.2 L339.9,633.2 L342.6,635.9 L339.9,641.5 L335.9,646.5Z" fill="#CA391D" stroke-width="1.3"/>
<path d="M356.5,628.2 L359.8,620.6 L369.8,617.3 L379.8,619.3 L382.1,626.6 L378.1,634.9 L369.8,638.2 L361.5,635.9Z" fill="#CA391D" stroke-width="1.3"/>
<path d="M438.5,648.1 L447.8,644.8 L453.8,637.5 L461.1,648.1 L469.4,653.1 L473.4,659.1 L466.1,661.4 L456.1,659.8 L449.5,662.1 L442.8,654.8Z" fill="#CA391D" stroke-width="1.3"/>
<path d="M492.6,666.4 L494.3,661.4 L505.9,660.8 L519.2,659.8 L524.8,661.4 L519.2,666.4 L505.9,666.4 L497.6,668.7Z" fill="#CA391D" stroke-width="1.3"/>
<path d="M507.6,677.0 L514.2,674.7 L520.9,679.0 L519.2,684.7 L512.6,685.7Z" fill="#CA391D" stroke-width="1.3"/>
<path d="M526.5,671.4 L532.5,666.4 L539.1,671.4 L549.1,669.1 L559.0,671.4 L566.3,678.0 L562.4,684.7 L552.4,688.0 L544.1,690.3 L539.1,683.0 L530.8,679.7Z" fill="#CA391D" stroke-width="1.3"/>
<path d="M529.2,695.6 L535.8,690.3 L538.5,693.0 L532.5,696.9Z" fill="#CA391D" stroke-width="1.3"/>
<path d="M575.6,704.6 L585.6,706.2 L602.2,711.2 L615.5,719.5 L620.5,729.5 L627.1,729.5 L637.1,739.4 L628.8,749.4 L615.5,759.4 L605.5,766.0 L595.6,778.6 L585.6,774.3 L580.6,766.0 L582.3,746.1 L574.0,739.4 L569.0,732.8 L574.0,719.5 L573.0,709.6Z" fill="#DB5735" stroke-width="1.3"/>
</g>
<g fill="none" stroke="#111" stroke-width="1.4">
<path d="M9.6,788.6 L9.6,438.2 L186.3,438.2 L325.5,611.5 L642.6,611.5 L642.6,788.6 Z"/>
<path d="M9.6,704.6 L325.5,704.6 M325.5,611.5 L325.5,788.6"/>
</g>
<g stroke="#111" stroke-width="1.2"><path d="M69.7,770.3 L89,765.7 M113.9,734.8 L119.5,780.3 M265.6,720.5 L293.8,744.8 M580.3,665.4 L580.3,704.6"/></g>
<g font-family="Liberation Sans, Arial, sans-serif" font-weight="bold" text-anchor="middle" fill="#111" stroke="#fff" stroke-width="2.4" stroke-linejoin="round" paint-order="stroke" font-size="18">
<text x="184.4" y="170.5">Below</text>
<text x="569" y="169.5">Above</text>
<text x="879.3" y="196.3">Near</text>
<text x="879.6" y="216.3">Normal</text>
<text x="206" y="391">Near</text>
<text x="206.5" y="412">Normal</text>
<text x="485.8" y="529.5">Above</text>
<text x="194" y="510.5">Above</text>
<text x="140.5" y="559.5">Near</text>
<text x="141" y="580.5">Normal</text>
<text x="71.8" y="680.5">Below</text>
<text x="290.5" y="676.3">Below</text>
</g>
<g font-family="Liberation Sans, Arial, sans-serif" font-weight="bold" fill="#111" font-size="12.5">
<text x="162.7" y="718.8" font-size="10.2" text-anchor="middle">Aleutian Islands</text>
<text x="106" y="732" text-anchor="end">Near</text><text x="106" y="747" text-anchor="end">Normal</text>
<text x="24.9" y="774.8">Below</text><text x="221.4" y="726">Below</text><text x="589" y="671">Above</text>
</g>
<g font-family="Liberation Sans, Arial, sans-serif" font-weight="bold" fill="#111" text-anchor="middle">
<text x="832.5" y="629.5" font-size="15.3">Probability</text><text x="832.5" y="647.5" font-size="15.3">(Percent Chance)</text>
<text x="763.6" y="667" font-size="12.5">Above Normal</text><text x="902.4" y="667" font-size="12.5">Below Normal</text>
<text x="833" y="687.7" font-size="12.5">Near</text><text x="833" y="702" font-size="12.5">Normal</text>
</g>
<rect x="820.5" y="709.3" width="25.3" height="11.5" fill="#A8A8A8"/>
<g font-family="DejaVu Sans Condensed, DejaVu Sans, Liberation Sans, sans-serif" font-size="11" fill="#222">
<rect x="721.3" y="673.8" width="25" height="11.8" fill="#E7B26B"/>
<rect x="918" y="673.8" width="25.7" height="11.8" fill="#BFCCE6"/>
<text x="750" y="683.8">33-40%</text><text x="913.8" y="683.8" text-anchor="end">33-40%</text>
<rect x="721.3" y="690.0" width="25" height="11.8" fill="#E38B4B"/>
<rect x="918" y="690.0" width="25.7" height="11.8" fill="#A1C0DF"/>
<text x="750" y="700.0">40-50%</text><text x="913.8" y="700.0" text-anchor="end">40-50%</text>
<rect x="721.3" y="706.1" width="25" height="11.8" fill="#DB5735"/>
<rect x="918" y="706.1" width="25.7" height="11.8" fill="#78B4E2"/>
<text x="750" y="716.1">50-60%</text><text x="913.8" y="716.1" text-anchor="end">50-60%</text>
<rect x="721.3" y="722.4" width="25" height="11.8" fill="#CA391D"/>
<rect x="918" y="722.4" width="25.7" height="11.8" fill="#3A9EDB"/>
<text x="750" y="732.4">60-70%</text><text x="913.8" y="732.4" text-anchor="end">60-70%</text>
<rect x="721.3" y="738.5" width="25" height="11.8" fill="#B42D06"/>
<rect x="918" y="738.5" width="25.7" height="11.8" fill="#0461A7"/>
<text x="750" y="748.5">70-80%</text><text x="913.8" y="748.5" text-anchor="end">70-80%</text>
<rect x="721.3" y="754.8" width="25" height="11.8" fill="#8C2404"/>
<rect x="918" y="754.8" width="25.7" height="11.8" fill="#2E2170"/>
<text x="750" y="764.8">80-90%</text><text x="913.8" y="764.8" text-anchor="end">80-90%</text>
<rect x="721.3" y="771.0" width="25" height="11.8" fill="#6F1E05"/>
<rect x="918" y="771.0" width="25.7" height="11.8" fill="#221852"/>
<text x="750" y="781.0">90-100%</text><text x="913.8" y="781.0" text-anchor="end">90-100%</text>
<g text-anchor="middle" font-size="11">
<text x="678.8" y="684">Leaning</text><text x="678.8" y="697">Above</text><text x="678.8" y="743.3">Likely</text><text x="678.8" y="756">Above</text>
<text x="987.5" y="684">Leaning</text><text x="987.5" y="697">Below</text><text x="987.5" y="743.3">Likely</text><text x="987.5" y="756">Below</text>
</g></g>
<path d="M718.8,673.8 Q709.4,673.8 709.4,680.8499999999999 L709.4,680.8499999999999 Q709.4,687.9 700,687.9 Q709.4,687.9 709.4,694.95 L709.4,694.95 Q709.4,702 718.8,702" fill="none" stroke="#333" stroke-width=".9"/>
<path d="M718.8,704.5 Q709.4,704.5 709.4,712.5 L709.4,735.75 Q709.4,743.75 700,743.75 Q709.4,743.75 709.4,751.75 L709.4,775 Q709.4,783 718.8,783" fill="none" stroke="#333" stroke-width=".9"/>
<path d="M946.8,672.5 Q956.15,672.5 956.15,680.0 L956.15,680.0 Q956.15,687.5 965.5,687.5 Q956.15,687.5 956.15,695.0 L956.15,695.0 Q956.15,702.5 946.8,702.5" fill="none" stroke="#333" stroke-width=".9"/>
<path d="M946.8,704.5 Q956.15,704.5 956.15,712.5 L956.15,735.75 Q956.15,743.75 965.5,743.75 Q956.15,743.75 956.15,751.75 L956.15,775 Q956.15,783 946.8,783" fill="none" stroke="#333" stroke-width=".9"/>
<text x="511.2" y="42" font-family="Liberation Sans, Arial, sans-serif" font-size="46.6" text-anchor="middle" fill="#000">6-10 Day Temperature Outlook</text>
<g font-family="DejaVu Sans Condensed, DejaVu Sans, sans-serif" font-size="20.2" fill="#000">
<text x="391.7" y="72" font-weight="bold" textLength="57.2" lengthAdjust="spacingAndGlyphs">Valid:</text><text x="463.5" y="72" textLength="203.3" lengthAdjust="spacingAndGlyphs">October 25 - 29, 2025</text>
<text x="391.7" y="96.6" font-weight="bold" textLength="75.6" lengthAdjust="spacingAndGlyphs">Issued:</text><text x="481.1" y="96.6" textLength="161" lengthAdjust="spacingAndGlyphs">October 19, 2025</text>
</g>
<g>
<circle cx="46.5" cy="36.5" r="26.9" fill="#2191D0"/><circle cx="46.5" cy="36.5" r="20.2" fill="#fff"/>
<path id="arcT" d="M25.2,40 A21.6,21.6 0 1 1 67.8,40" fill="none"/><path id="arcB" d="M21.4,33.5 A25.3,25.3 0 1 0 71.6,33.5" fill="none"/>
<text font-family="Liberation Sans, Arial, sans-serif" font-weight="bold" font-size="4.4" fill="#fff" text-anchor="middle"><textPath href="#arcT" startOffset="50%">DEPARTMENT OF COMMERCE</textPath></text>
<text font-family="Liberation Sans, Arial, sans-serif" font-weight="bold" font-size="4.3" fill="#fff" text-anchor="middle"><textPath href="#arcB" startOffset="50%">UNITED STATES OF AMERICA</textPath></text>
<path d="M35.4,32.8 L57.8,32.8 L57.8,43.2 L35.4,43.2 Z" fill="#2191D0"/>
<path d="M36.6,43.2 L56.8,43.2 L56.4,51 L46.6,55.3 L37,51 Z" fill="#E2B21E"/>
<path d="M40,20 C41,24 43.5,28 45.5,30 L45.8,24.5 C46.2,23.2 47.2,23.2 47.6,24.5 L48,30 C50,28 52.5,24 54,20 C53.5,25 51.5,29.5 49.5,31.8 L43.8,31.8 C41.8,29.5 40.3,25 40,20 Z" fill="#C8982A"/><circle cx="22.6" cy="36.5" r=".7" fill="#fff"/><circle cx="70.4" cy="36.5" r=".7" fill="#fff"/><path d="M46.6,44.5 L46.6,54" stroke="#8a8a80" stroke-width="1.2"/>
<path d="M39,39.5 L52,36 L53,40.5 L41,41.2 Z" fill="#e8eef2"/>
</g>
<g>
<clipPath id="nc"><circle cx="977.2" cy="37" r="28"/></clipPath>
<g clip-path="url(#nc)">
<rect x="945" y="5" width="66" height="66" fill="#0085CA"/>
<path d="M948.2,28.1 C956.1,30.9 965.5,44.1 974.9,44.5 L968.3,48.3 C974.9,48.7 980.5,44.1 989.9,43.1 L984.2,42.4 C991.7,37.5 997.4,29.1 1006,22 L1006,5 L948.2,5 Z" fill="#fff"/>
<path d="M953.3,19.6 C959.9,25.3 965.5,41.2 978.6,42.2 C988,41.2 992.7,25.3 1001.1,18.7 L1001.1,5 L953.3,5 Z" fill="#0A3089"/>
</g>
<text x="966" y="27.6" font-family="Liberation Sans, Arial, sans-serif" font-weight="bold" font-size="10.4" fill="#fff" textLength="23" lengthAdjust="spacingAndGlyphs">NOAA</text>
</g>
</svg>
</body></html>
